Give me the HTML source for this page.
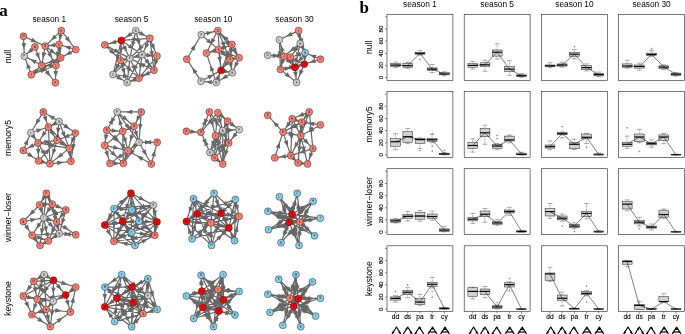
<!DOCTYPE html>
<html><head><meta charset="utf-8"><title>figure</title>
<style>html,body{margin:0;padding:0;background:#fff}svg{display:block;will-change:transform}</style></head>
<body>
<svg width="685" height="334" viewBox="0 0 685 334">
<rect width="685" height="334" fill="#fff"/>
<g font-family="'Liberation Serif', serif" font-weight="bold" font-size="17px" fill="#000">
<text x="-0.8" y="15.8">a</text><text x="359.6" y="12.7">b</text></g>
<g font-family="'Liberation Sans', sans-serif" fill="#000">
<g font-size="8.3px" text-anchor="middle">
<text x="49.3" y="21.9">season 1</text>
<text x="131.5" y="21.9">season 5</text>
<text x="213.3" y="21.9">season 10</text>
<text x="294.5" y="21.9">season 30</text>
<text x="419.9" y="7.1">season 1</text>
<text x="497.1" y="7.1">season 5</text>
<text x="574.4" y="7.1">season 10</text>
<text x="651.6" y="7.1">season 30</text>
</g>
<g font-size="8.65px" text-anchor="middle">
<text transform="translate(10.6,56.5) rotate(-90)">null</text>
<text transform="translate(10.6,138) rotate(-90)">memory5</text>
<text transform="translate(10.6,217.5) rotate(-90)">winner−loser</text>
<text transform="translate(10.6,298.5) rotate(-90)">keystone</text>
</g>
<g font-size="8.7px" text-anchor="middle">
<text transform="translate(372.2,47.3) rotate(-90)">null</text>
<text transform="translate(372.2,124.4) rotate(-90)">memory5</text>
<text transform="translate(372.2,201.5) rotate(-90)">winner−loser</text>
<text transform="translate(372.2,278.6) rotate(-90)">keystone</text>
</g>
</g>
<g id="net1">
<path d="M23.5 36.3L45.2 46.1M23.5 36.3L24.3 56.1M61.3 30.6L45.2 46.1M61.3 30.6L59.0 44.5M61.3 30.6L75.8 49.6M59.0 44.5L45.2 46.1M75.8 49.6L59.0 44.5M34.9 46.9L24.3 56.1M34.9 46.9L41.7 65.3M45.2 46.1L41.7 65.3M45.2 46.1L56.0 65.5M45.2 46.1L60.7 57.8M59.0 44.5L60.7 57.8M59.0 44.5L56.0 65.5M75.8 49.6L60.7 57.8M41.7 65.3L24.3 56.1M60.7 57.8L41.7 65.3M60.7 57.8L56.0 65.5M56.0 65.5L41.7 65.3M31.3 74.7L24.3 56.1M31.3 74.7L41.7 65.3M31.3 74.7L56.0 65.5M56.0 65.5L55.4 82.7M41.7 65.3L55.4 82.7M31.3 74.7L60.7 57.8" stroke="#666666" stroke-width="1.2" fill="none"/>
<path d="M37.2 42.5L30.6 42.0L32.5 37.8ZM24.0 49.3L21.5 43.2L26.1 43.0ZM51.0 40.5L53.9 34.5L57.1 37.9ZM59.6 40.6L58.4 34.1L62.9 34.9ZM70.4 42.6L64.8 39.0L68.5 36.2ZM49.0 45.7L54.9 42.7L55.4 47.2ZM64.4 46.1L71.0 45.7L69.7 50.2ZM27.3 53.5L30.4 47.7L33.4 51.2ZM39.4 59.0L35.1 54.0L39.4 52.4ZM42.9 58.7L41.7 52.2L46.3 53.1ZM52.1 58.5L47.1 54.2L51.1 52.0ZM55.4 53.8L49.1 51.9L51.9 48.2ZM60.2 54.2L57.2 48.4L61.7 47.8ZM57.1 58.1L55.7 51.6L60.2 52.3ZM65.5 55.2L69.9 50.2L72.1 54.2ZM30.3 59.3L36.8 60.1L34.7 64.2ZM48.3 62.7L53.2 58.3L54.9 62.6ZM56.7 64.3L58.0 57.8L61.9 60.2ZM45.8 65.4L52.0 63.1L51.9 67.7ZM26.7 62.5L31.0 67.5L26.7 69.1ZM38.8 67.9L35.7 73.8L32.7 70.4ZM46.6 69.0L41.5 73.3L39.9 69.0ZM55.6 77.2L53.5 70.9L58.1 71.1ZM50.5 76.4L44.8 73.0L48.4 70.1ZM48.7 64.7L44.5 69.8L42.2 65.8Z" fill="#666666"/>
<circle cx="23.5" cy="36.3" r="3.45" fill="#fa8072" stroke="#222" stroke-width="0.5"/>
<circle cx="61.3" cy="30.6" r="3.45" fill="#fa8072" stroke="#222" stroke-width="0.5"/>
<circle cx="34.9" cy="46.9" r="3.45" fill="#fa8072" stroke="#222" stroke-width="0.5"/>
<circle cx="45.2" cy="46.1" r="3.45" fill="#fa8072" stroke="#222" stroke-width="0.5"/>
<circle cx="59.0" cy="44.5" r="3.45" fill="#fa8072" stroke="#222" stroke-width="0.5"/>
<circle cx="75.8" cy="49.6" r="3.45" fill="#fa8072" stroke="#222" stroke-width="0.5"/>
<circle cx="24.3" cy="56.1" r="3.45" fill="#cccccc" stroke="#222" stroke-width="0.5"/>
<circle cx="60.7" cy="57.8" r="3.45" fill="#fa8072" stroke="#222" stroke-width="0.5"/>
<circle cx="41.7" cy="65.3" r="3.45" fill="#fa8072" stroke="#222" stroke-width="0.5"/>
<circle cx="56.0" cy="65.5" r="3.45" fill="#fa8072" stroke="#222" stroke-width="0.5"/>
<circle cx="31.3" cy="74.7" r="3.45" fill="#fa8072" stroke="#222" stroke-width="0.5"/>
<circle cx="55.4" cy="82.7" r="3.45" fill="#fa8072" stroke="#222" stroke-width="0.5"/>
<g font-family="'Liberation Sans', sans-serif" font-size="2.8px" text-anchor="middle" fill="#222">
<text x="23.5" y="37.3">H</text>
<text x="61.3" y="31.6">E</text>
<text x="34.9" y="47.9">A</text>
<text x="45.2" y="47.1">B</text>
<text x="59.0" y="45.5">K</text>
<text x="75.8" y="50.6">I</text>
<text x="24.3" y="57.1">P</text>
<text x="60.7" y="58.8">G</text>
<text x="41.7" y="66.3">O</text>
<text x="56.0" y="66.5">L</text>
<text x="31.3" y="75.7">J</text>
<text x="55.4" y="83.7">F</text>
</g>
</g>
<g id="net2">
<path d="M135.8 30.6L121.3 40.4M135.8 30.6L149.9 38.3M135.8 30.6L142.1 54.7M135.8 30.6L129.9 58.4M121.3 40.4L104.7 44.9M121.3 40.4L149.9 38.3M121.3 40.4L142.1 54.7M121.3 40.4L120.7 60.4M121.3 40.4L129.9 58.4M121.3 40.4L113.1 74.5M104.7 44.9L120.7 60.4M104.7 44.9L129.9 58.4M149.9 38.3L142.1 54.7M149.9 38.3L157.0 56.1M149.9 38.3L129.9 58.4M149.9 38.3L154.0 70.2M142.1 54.7L157.0 56.1M142.1 54.7L129.9 58.4M142.1 54.7L154.0 70.2M142.1 54.7L139.0 78.2M142.1 54.7L127.2 82.5M157.0 56.1L154.0 70.2M157.0 56.1L139.0 78.2M129.9 58.4L120.7 60.4M129.9 58.4L113.1 74.5M129.9 58.4L139.0 78.2M129.9 58.4L127.2 82.5M120.7 60.4L113.1 74.5M120.7 60.4L127.2 82.5M120.7 60.4L139.0 78.2M154.0 70.2L139.0 78.2M154.0 70.2L129.9 58.4M113.1 74.5L127.2 82.5M113.1 74.5L139.0 78.2M139.0 78.2L127.2 82.5M154.0 70.2L127.2 82.5" stroke="#666666" stroke-width="1.2" fill="none"/>
<path d="M126.0 37.2L129.8 31.9L132.4 35.7ZM145.6 35.9L139.0 35.0L141.2 30.9ZM139.7 45.6L135.9 40.2L140.4 39.1ZM132.2 47.5L131.2 41.0L135.7 41.9ZM110.0 43.5L115.4 39.6L116.6 44.1ZM138.7 39.1L132.7 41.9L132.3 37.3ZM134.3 49.3L127.8 47.7L130.4 43.9ZM120.9 53.5L118.8 47.2L123.4 47.4ZM126.9 52.2L122.2 47.6L126.3 45.6ZM116.5 60.5L115.7 53.9L120.2 55.0ZM114.9 54.8L108.9 52.1L112.1 48.8ZM120.0 53.1L113.5 52.2L115.7 48.2ZM144.7 49.3L145.3 42.7L149.4 44.7ZM154.6 50.1L150.2 45.2L154.4 43.5ZM137.7 50.5L140.5 44.5L143.7 47.8ZM152.3 57.3L149.3 51.5L153.8 50.9ZM152.6 55.7L146.2 57.4L146.7 52.8ZM133.0 57.4L138.3 53.4L139.6 57.9ZM149.9 64.9L144.3 61.4L148.0 58.6ZM140.1 69.5L138.7 63.1L143.2 63.7ZM133.2 71.3L134.1 64.8L138.1 67.0ZM154.9 66.2L153.9 59.6L158.4 60.6ZM146.0 69.6L148.2 63.3L151.7 66.2ZM122.3 60.1L127.8 56.5L128.8 61.0ZM119.3 68.6L122.1 62.6L125.3 66.0ZM135.7 71.1L131.1 66.4L135.2 64.5ZM128.2 73.5L126.6 67.1L131.2 67.6ZM115.4 70.2L116.3 63.6L120.4 65.8ZM124.8 74.4L120.9 69.1L125.3 67.8ZM132.1 71.5L126.0 68.8L129.2 65.5ZM143.8 75.7L148.2 70.7L150.3 74.8ZM139.2 62.9L145.7 63.6L143.7 67.7ZM122.8 80.0L116.3 79.0L118.6 75.0ZM129.1 76.8L122.7 78.2L123.3 73.6ZM130.2 81.4L135.2 77.1L136.8 81.4ZM137.8 77.6L142.5 73.0L144.4 77.1Z" fill="#666666"/>
<circle cx="135.8" cy="30.6" r="3.45" fill="#cccccc" stroke="#222" stroke-width="0.5"/>
<circle cx="121.3" cy="40.4" r="3.45" fill="#ff0000" stroke="#222" stroke-width="0.5"/>
<circle cx="104.7" cy="44.9" r="3.45" fill="#fa8072" stroke="#222" stroke-width="0.5"/>
<circle cx="149.9" cy="38.3" r="3.45" fill="#fa8072" stroke="#222" stroke-width="0.5"/>
<circle cx="129.9" cy="58.4" r="3.45" fill="#cccccc" stroke="#222" stroke-width="0.5"/>
<circle cx="142.1" cy="54.7" r="3.45" fill="#cccccc" stroke="#222" stroke-width="0.5"/>
<circle cx="157.0" cy="56.1" r="3.45" fill="#fa8072" stroke="#222" stroke-width="0.5"/>
<circle cx="120.7" cy="60.4" r="3.45" fill="#fa8072" stroke="#222" stroke-width="0.5"/>
<circle cx="154.0" cy="70.2" r="3.45" fill="#fa8072" stroke="#222" stroke-width="0.5"/>
<circle cx="113.1" cy="74.5" r="3.45" fill="#cccccc" stroke="#222" stroke-width="0.5"/>
<circle cx="139.0" cy="78.2" r="3.45" fill="#fa8072" stroke="#222" stroke-width="0.5"/>
<circle cx="127.2" cy="82.5" r="3.45" fill="#cccccc" stroke="#222" stroke-width="0.5"/>
<g font-family="'Liberation Sans', sans-serif" font-size="2.8px" text-anchor="middle" fill="#222">
<text x="135.8" y="31.6">B</text>
<text x="121.3" y="41.4">G</text>
<text x="104.7" y="45.9">J</text>
<text x="149.9" y="39.3">L</text>
<text x="129.9" y="59.4">F</text>
<text x="142.1" y="55.7">H</text>
<text x="157.0" y="57.1">I</text>
<text x="120.7" y="61.4">D</text>
<text x="154.0" y="71.2">N</text>
<text x="113.1" y="75.5">C</text>
<text x="139.0" y="79.2">K</text>
<text x="127.2" y="83.5">E</text>
</g>
</g>
<g id="net3">
<path d="M201.3 34.7L217.8 30.6M186.8 59.2L201.3 34.7M217.8 30.6L206.4 53.1M201.3 34.7L218.6 49.6M231.9 44.5L217.8 30.6M217.8 30.6L229.9 59.4M217.8 30.6L221.1 70.4M218.6 49.6L206.4 53.1M218.6 49.6L231.9 44.5M218.6 49.6L229.9 59.4M218.6 49.6L239.1 57.8M231.9 44.5L229.9 59.4M231.9 44.5L239.1 57.8M229.9 59.4L239.1 57.8M201.1 81.3L186.8 59.2M216.2 82.5L206.4 53.1M218.6 49.6L221.1 70.4M201.1 81.3L221.1 70.4M216.2 82.5L221.1 70.4M216.2 82.5L201.1 81.3M232.3 72.7L216.2 82.5M221.1 70.4L232.3 72.7M229.9 59.4L221.1 70.4M229.9 59.4L232.3 72.7M239.1 57.8L232.3 72.7M231.9 44.5L221.1 70.4M217.8 30.6L239.1 57.8" stroke="#666666" stroke-width="1.2" fill="none"/>
<path d="M212.6 31.9L207.1 35.6L206.0 31.2ZM195.6 44.3L194.5 50.8L190.5 48.4ZM210.7 44.6L211.4 38.0L215.6 40.1ZM212.3 44.2L206.1 41.9L209.1 38.4ZM222.6 35.4L228.7 38.1L225.4 41.4ZM225.1 47.9L220.5 43.0L224.8 41.3ZM219.7 53.6L216.9 47.6L221.5 47.2ZM209.5 52.2L214.8 48.3L216.1 52.7ZM228.1 45.9L223.2 50.3L221.5 46.0ZM226.6 56.5L220.4 54.2L223.4 50.7ZM231.7 54.9L225.1 54.7L226.8 50.4ZM230.5 55.0L229.0 48.6L233.6 49.2ZM237.0 53.9L232.0 49.5L236.0 47.3ZM237.6 58.1L231.8 61.4L231.1 56.9ZM192.3 67.6L197.6 71.6L193.7 74.1ZM210.3 64.9L214.5 70.0L210.1 71.5ZM220.2 63.1L217.2 57.2L221.8 56.6ZM213.8 74.4L209.5 79.4L207.3 75.3ZM219.8 73.6L219.6 80.2L215.4 78.5ZM205.6 81.7L211.9 79.9L211.6 84.4ZM221.6 79.2L225.7 74.0L228.1 78.0ZM229.7 72.2L223.2 73.2L224.1 68.7ZM223.6 67.3L225.6 61.0L229.2 63.9ZM231.7 69.1L228.3 63.4L232.8 62.6ZM234.4 68.1L234.9 61.5L239.1 63.4ZM225.3 60.3L225.6 53.7L229.8 55.5ZM230.4 46.6L224.7 43.2L228.3 40.3Z" fill="#666666"/>
<circle cx="201.3" cy="34.7" r="3.45" fill="#cccccc" stroke="#222" stroke-width="0.5"/>
<circle cx="217.8" cy="30.6" r="3.45" fill="#fa8072" stroke="#222" stroke-width="0.5"/>
<circle cx="231.9" cy="44.5" r="3.45" fill="#fa8072" stroke="#222" stroke-width="0.5"/>
<circle cx="206.4" cy="53.1" r="3.45" fill="#fa8072" stroke="#222" stroke-width="0.5"/>
<circle cx="218.6" cy="49.6" r="3.45" fill="#fa8072" stroke="#222" stroke-width="0.5"/>
<circle cx="186.8" cy="59.2" r="3.45" fill="#fa8072" stroke="#222" stroke-width="0.5"/>
<circle cx="229.9" cy="59.4" r="3.45" fill="#fa8072" stroke="#222" stroke-width="0.5"/>
<circle cx="239.1" cy="57.8" r="3.45" fill="#fa8072" stroke="#222" stroke-width="0.5"/>
<circle cx="221.1" cy="70.4" r="3.45" fill="#ff0000" stroke="#222" stroke-width="0.5"/>
<circle cx="232.3" cy="72.7" r="3.45" fill="#cccccc" stroke="#222" stroke-width="0.5"/>
<circle cx="201.1" cy="81.3" r="3.45" fill="#cccccc" stroke="#222" stroke-width="0.5"/>
<circle cx="216.2" cy="82.5" r="3.45" fill="#cccccc" stroke="#222" stroke-width="0.5"/>
<g font-family="'Liberation Sans', sans-serif" font-size="2.8px" text-anchor="middle" fill="#222">
<text x="201.3" y="35.7">F</text>
<text x="217.8" y="31.6">N</text>
<text x="231.9" y="45.5">D</text>
<text x="206.4" y="54.1">I</text>
<text x="218.6" y="50.6">K</text>
<text x="186.8" y="60.2">O</text>
<text x="229.9" y="60.4">G</text>
<text x="239.1" y="58.8">L</text>
<text x="221.1" y="71.4">A</text>
<text x="232.3" y="73.7">H</text>
<text x="201.1" y="82.3">P</text>
<text x="216.2" y="83.5">M</text>
</g>
</g>
<g id="net4">
<path d="M298.6 30.6L279.4 39.8M298.6 30.6L300.2 43.5M298.6 30.6L305.1 52.7M283.9 56.3L279.4 39.8M267.7 55.3L283.9 56.3M300.2 43.5L283.9 56.3M300.2 43.5L290.4 57.2M300.2 43.5L294.9 67.4M300.2 43.5L305.1 52.7M320.4 59.2L305.1 52.7M320.4 59.2L304.3 64.1M305.1 52.7L304.3 64.1M305.1 52.7L294.9 67.4M305.1 52.7L290.4 57.2M283.9 56.3L280.4 69.4M283.9 56.3L294.9 67.4M290.4 57.2L294.9 67.4M290.4 57.2L304.3 64.1M283.9 56.3L290.4 57.2M280.4 69.4L294.9 67.4M280.4 69.4L296.5 82.5M280.4 69.4L304.3 64.1M294.9 67.4L296.5 82.5M304.3 64.1L296.5 82.5M294.9 67.4L304.3 64.1M279.4 39.8L280.4 69.4" stroke="#666666" stroke-width="1.2" fill="none"/>
<path d="M286.2 36.5L290.8 31.8L292.8 35.9ZM299.8 40.1L296.7 34.3L301.3 33.7ZM302.7 44.6L298.8 39.3L303.2 38.0ZM280.8 45.1L284.7 50.4L280.2 51.6ZM278.9 56.0L272.6 57.9L272.8 53.3ZM272.7 55.6L279.0 53.7L278.8 58.3ZM289.6 51.8L293.1 46.2L295.9 49.8ZM293.5 52.9L295.2 46.5L299.0 49.2ZM296.9 58.5L296.0 51.9L300.5 52.9ZM304.1 50.8L299.2 46.4L303.2 44.3ZM309.9 54.7L316.5 55.0L314.7 59.3ZM309.4 62.6L314.6 58.5L316.0 62.9ZM304.5 61.5L302.6 55.1L307.2 55.5ZM298.2 62.6L299.9 56.2L303.7 58.8ZM294.8 55.9L300.0 51.8L301.4 56.2ZM281.3 65.8L280.7 59.3L285.2 60.4ZM291.6 64.1L285.6 61.3L288.9 58.0ZM293.9 65.1L289.3 60.4L293.5 58.5ZM300.1 62.0L293.6 61.3L295.6 57.2ZM290.2 57.2L283.8 58.6L284.4 54.0ZM290.7 68.0L284.9 71.1L284.3 66.5ZM290.9 77.9L284.6 75.8L287.5 72.2ZM295.4 66.1L289.8 69.7L288.8 65.2ZM296.0 78.0L293.1 72.1L297.7 71.6ZM299.2 76.2L299.5 69.5L303.7 71.3ZM302.5 64.7L297.4 68.9L295.9 64.6ZM280.0 57.7L277.5 51.6L282.1 51.4Z" fill="#666666"/>
<circle cx="298.6" cy="30.6" r="3.45" fill="#fa8072" stroke="#222" stroke-width="0.5"/>
<circle cx="279.4" cy="39.8" r="3.45" fill="#cccccc" stroke="#222" stroke-width="0.5"/>
<circle cx="300.2" cy="43.5" r="3.45" fill="#cccccc" stroke="#222" stroke-width="0.5"/>
<circle cx="305.1" cy="52.7" r="3.45" fill="#87ceeb" stroke="#222" stroke-width="0.5"/>
<circle cx="267.7" cy="55.3" r="3.45" fill="#cccccc" stroke="#222" stroke-width="0.5"/>
<circle cx="283.9" cy="56.3" r="3.45" fill="#fa8072" stroke="#222" stroke-width="0.5"/>
<circle cx="290.4" cy="57.2" r="3.45" fill="#fa8072" stroke="#222" stroke-width="0.5"/>
<circle cx="320.4" cy="59.2" r="3.45" fill="#fa8072" stroke="#222" stroke-width="0.5"/>
<circle cx="304.3" cy="64.1" r="3.45" fill="#ff0000" stroke="#222" stroke-width="0.5"/>
<circle cx="294.9" cy="67.4" r="3.45" fill="#ff0000" stroke="#222" stroke-width="0.5"/>
<circle cx="280.4" cy="69.4" r="3.45" fill="#fa8072" stroke="#222" stroke-width="0.5"/>
<circle cx="296.5" cy="82.5" r="3.45" fill="#cccccc" stroke="#222" stroke-width="0.5"/>
<g font-family="'Liberation Sans', sans-serif" font-size="2.8px" text-anchor="middle" fill="#222">
<text x="298.6" y="31.6">I</text>
<text x="279.4" y="40.8">L</text>
<text x="300.2" y="44.5">H</text>
<text x="305.1" y="53.7">N</text>
<text x="267.7" y="56.3">G</text>
<text x="283.9" y="57.3">J</text>
<text x="290.4" y="58.2">K</text>
<text x="320.4" y="60.2">C</text>
<text x="304.3" y="65.1">M</text>
<text x="294.9" y="68.4">B</text>
<text x="280.4" y="70.4">O</text>
<text x="296.5" y="83.5">F</text>
</g>
</g>
<g id="net5">
<path d="M43.3 111.9L30.8 132.7M43.3 111.9L48.4 127.0M59.0 121.5L43.3 111.9M30.8 132.7L48.4 127.0M59.0 121.5L48.4 127.0M59.0 121.5L57.0 140.3M59.0 121.5L75.4 133.1M59.0 121.5L69.3 148.4M48.4 127.0L38.0 142.9M48.4 127.0L57.0 140.3M48.4 127.0L49.9 163.8M48.4 127.0L69.3 148.4M75.4 133.1L57.0 140.3M75.4 133.1L69.3 148.4M75.4 133.1L70.9 161.3M30.8 132.7L38.0 142.9M23.3 150.5L30.8 132.7M38.0 142.9L57.0 140.3M38.0 142.9L23.3 150.5M38.0 142.9L38.6 160.9M38.0 142.9L49.9 163.8M38.0 142.9L69.3 148.4M57.0 140.3L69.3 148.4M57.0 140.3L49.9 163.8M23.3 150.5L38.6 160.9M38.6 160.9L49.9 163.8M38.6 160.9L57.0 140.3M49.9 163.8L70.9 161.3M69.3 148.4L49.9 163.8M69.3 148.4L70.9 161.3" stroke="#666666" stroke-width="1.2" fill="none"/>
<path d="M35.5 125.0L36.7 118.5L40.6 120.8ZM46.8 122.4L42.7 117.2L47.0 115.8ZM48.5 115.1L55.0 116.4L52.6 120.3ZM42.5 128.9L37.4 133.0L35.9 128.6ZM50.9 125.7L55.4 120.8L57.5 124.9ZM57.7 134.0L56.0 127.6L60.6 128.1ZM69.7 129.1L63.3 127.4L66.0 123.6ZM65.3 137.8L60.9 132.9L65.2 131.2ZM41.5 137.5L43.0 131.1L46.8 133.6ZM54.4 136.3L49.1 132.3L52.9 129.8ZM49.3 148.5L46.7 142.4L51.3 142.2ZM61.0 139.9L55.0 137.1L58.3 133.9ZM63.3 137.8L68.2 133.4L69.9 137.7ZM71.2 143.6L71.4 137.0L75.6 138.7ZM72.7 150.3L71.4 143.8L75.9 144.5ZM36.2 140.3L30.7 136.6L34.5 133.9ZM28.3 138.7L28.0 145.3L23.7 143.6ZM50.6 141.2L44.7 144.3L44.1 139.7ZM27.9 148.1L32.3 143.2L34.5 147.3ZM38.4 155.0L35.9 148.9L40.5 148.7ZM45.5 156.0L40.4 151.8L44.4 149.5ZM56.7 146.2L50.2 147.4L51.0 142.8ZM65.7 146.1L59.3 144.6L61.8 140.7ZM52.6 155.0L52.1 148.4L56.5 149.7ZM33.5 157.4L27.1 155.9L29.7 152.1ZM47.3 163.1L40.7 163.8L41.8 159.4ZM49.9 148.3L47.5 154.4L44.0 151.4ZM63.5 162.2L57.6 165.2L57.0 160.6ZM57.2 158.0L60.6 152.4L63.5 156.0ZM70.5 157.9L67.4 152.1L72.0 151.5Z" fill="#666666"/>
<circle cx="43.3" cy="111.9" r="3.45" fill="#fa8072" stroke="#222" stroke-width="0.5"/>
<circle cx="59.0" cy="121.5" r="3.45" fill="#cccccc" stroke="#222" stroke-width="0.5"/>
<circle cx="48.4" cy="127.0" r="3.45" fill="#fa8072" stroke="#222" stroke-width="0.5"/>
<circle cx="30.8" cy="132.7" r="3.45" fill="#cccccc" stroke="#222" stroke-width="0.5"/>
<circle cx="75.4" cy="133.1" r="3.45" fill="#fa8072" stroke="#222" stroke-width="0.5"/>
<circle cx="57.0" cy="140.3" r="3.45" fill="#fa8072" stroke="#222" stroke-width="0.5"/>
<circle cx="38.0" cy="142.9" r="3.45" fill="#fa8072" stroke="#222" stroke-width="0.5"/>
<circle cx="69.3" cy="148.4" r="3.45" fill="#fa8072" stroke="#222" stroke-width="0.5"/>
<circle cx="23.3" cy="150.5" r="3.45" fill="#fa8072" stroke="#222" stroke-width="0.5"/>
<circle cx="38.6" cy="160.9" r="3.45" fill="#fa8072" stroke="#222" stroke-width="0.5"/>
<circle cx="49.9" cy="163.8" r="3.45" fill="#fa8072" stroke="#222" stroke-width="0.5"/>
<circle cx="70.9" cy="161.3" r="3.45" fill="#fa8072" stroke="#222" stroke-width="0.5"/>
<g font-family="'Liberation Sans', sans-serif" font-size="2.8px" text-anchor="middle" fill="#222">
<text x="43.3" y="112.9">A</text>
<text x="59.0" y="122.5">G</text>
<text x="48.4" y="128.0">K</text>
<text x="30.8" y="133.7">L</text>
<text x="75.4" y="134.1">B</text>
<text x="57.0" y="141.3">E</text>
<text x="38.0" y="143.9">J</text>
<text x="69.3" y="149.4">I</text>
<text x="23.3" y="151.5">H</text>
<text x="38.6" y="161.9">C</text>
<text x="49.9" y="164.8">F</text>
<text x="70.9" y="162.3">D</text>
</g>
</g>
<g id="net6">
<path d="M141.3 111.9L117.2 111.9M141.3 111.9L134.1 126.2M141.3 111.9L139.0 142.3M106.8 130.2L117.2 111.9M122.7 131.3L117.2 111.9M117.2 111.9L139.0 142.3M106.8 130.2L122.7 131.3M134.1 126.2L122.7 131.3M106.8 130.2L104.7 145.4M106.8 130.2L128.0 150.7M134.1 126.2L139.0 142.3M134.1 126.2L128.0 150.7M122.7 131.3L128.0 150.7M122.7 131.3L123.3 163.4M122.7 131.3L104.7 145.4M139.0 142.3L157.2 142.3M139.0 142.3L151.3 164.0M139.0 142.3L128.0 150.7M139.0 142.3L123.3 163.4M151.3 164.0L157.2 142.3M151.3 164.0L128.0 150.7M104.7 145.4L110.0 163.4M104.7 145.4L128.0 150.7M104.7 145.4L123.3 163.4M128.0 150.7L110.0 163.4M128.0 150.7L123.3 163.4M110.0 163.4L123.3 163.4M117.2 111.9L134.1 126.2" stroke="#666666" stroke-width="1.2" fill="none"/>
<path d="M126.2 111.9L132.3 109.6L132.3 114.2ZM136.3 121.8L137.0 115.2L141.1 117.3ZM139.9 130.2L138.1 123.8L142.7 124.2ZM113.5 118.4L112.5 124.9L108.5 122.6ZM110.5 123.7L111.5 117.2L115.5 119.5ZM119.1 118.6L123.0 124.0L118.6 125.2ZM129.9 129.6L124.4 125.9L128.2 123.2ZM117.8 131.0L111.5 132.8L111.8 128.2ZM125.6 130.0L130.3 125.4L132.2 129.6ZM105.3 140.9L103.9 134.4L108.5 135.0ZM119.6 142.6L113.6 139.9L116.8 136.6ZM137.5 137.2L133.4 132.0L137.8 130.6ZM130.3 141.5L129.6 134.9L134.0 136.0ZM126.2 144.0L122.3 138.6L126.8 137.4ZM123.1 150.4L120.6 144.3L125.2 144.2ZM111.3 140.3L114.7 134.6L117.6 138.2ZM151.2 142.3L145.0 144.6L145.0 140.0ZM145.0 142.3L151.2 140.0L151.2 144.6ZM146.7 155.8L141.6 151.6L145.6 149.3ZM131.0 148.4L134.6 142.8L137.4 146.4ZM129.3 155.3L131.2 149.0L134.8 151.7ZM155.1 150.2L155.7 156.7L151.2 155.5ZM137.0 155.8L143.5 156.9L141.2 160.9ZM108.2 157.4L104.3 152.1L108.7 150.8ZM119.4 148.7L112.8 149.6L113.8 145.1ZM116.2 156.6L110.2 153.9L113.4 150.6ZM116.5 158.8L120.2 153.4L122.9 157.1ZM124.6 160.0L124.6 153.3L128.9 154.9ZM119.8 163.4L113.6 165.7L113.6 161.1ZM128.0 121.1L121.8 118.8L124.8 115.3Z" fill="#666666"/>
<circle cx="117.2" cy="111.9" r="3.45" fill="#cccccc" stroke="#222" stroke-width="0.5"/>
<circle cx="141.3" cy="111.9" r="3.45" fill="#fa8072" stroke="#222" stroke-width="0.5"/>
<circle cx="134.1" cy="126.2" r="3.45" fill="#fa8072" stroke="#222" stroke-width="0.5"/>
<circle cx="106.8" cy="130.2" r="3.45" fill="#fa8072" stroke="#222" stroke-width="0.5"/>
<circle cx="122.7" cy="131.3" r="3.45" fill="#fa8072" stroke="#222" stroke-width="0.5"/>
<circle cx="139.0" cy="142.3" r="3.45" fill="#cccccc" stroke="#222" stroke-width="0.5"/>
<circle cx="157.2" cy="142.3" r="3.45" fill="#fa8072" stroke="#222" stroke-width="0.5"/>
<circle cx="104.7" cy="145.4" r="3.45" fill="#fa8072" stroke="#222" stroke-width="0.5"/>
<circle cx="128.0" cy="150.7" r="3.45" fill="#fa8072" stroke="#222" stroke-width="0.5"/>
<circle cx="110.0" cy="163.4" r="3.45" fill="#fa8072" stroke="#222" stroke-width="0.5"/>
<circle cx="123.3" cy="163.4" r="3.45" fill="#fa8072" stroke="#222" stroke-width="0.5"/>
<circle cx="151.3" cy="164.0" r="3.45" fill="#fa8072" stroke="#222" stroke-width="0.5"/>
<g font-family="'Liberation Sans', sans-serif" font-size="2.8px" text-anchor="middle" fill="#222">
<text x="117.2" y="112.9">F</text>
<text x="141.3" y="112.9">B</text>
<text x="134.1" y="127.2">A</text>
<text x="106.8" y="131.2">N</text>
<text x="122.7" y="132.3">D</text>
<text x="139.0" y="143.3">J</text>
<text x="157.2" y="143.3">H</text>
<text x="104.7" y="146.4">L</text>
<text x="128.0" y="151.7">I</text>
<text x="110.0" y="164.4">C</text>
<text x="123.3" y="164.4">K</text>
<text x="151.3" y="165.0">E</text>
</g>
</g>
<g id="net7">
<path d="M186.4 131.3L200.9 132.3M209.4 111.9L200.9 132.3M217.8 112.7L200.9 132.3M209.4 111.9L222.7 130.7M209.4 111.9L215.4 135.8M217.8 112.7L222.7 130.7M217.8 112.7L215.4 135.8M217.8 112.7L227.6 121.1M217.8 112.7L239.1 129.6M227.6 121.1L239.1 129.6M227.6 121.1L222.7 130.7M227.6 121.1L228.7 142.9M222.7 130.7L239.1 129.6M239.1 129.6L228.7 142.9M200.9 132.3L209.9 152.5M222.7 130.7L209.9 152.5M222.7 130.7L214.6 157.8M222.7 130.7L222.7 164.0M215.4 135.8L209.9 152.5M215.4 135.8L214.6 157.8M215.4 135.8L222.7 164.0M228.7 142.9L209.9 152.5M228.7 142.9L214.6 157.8M228.7 142.9L222.7 164.0M227.6 121.1L222.7 164.0M209.9 152.5L214.6 157.8M214.6 157.8L222.7 164.0M222.7 130.7L215.4 135.8M222.7 130.7L228.7 142.9" stroke="#666666" stroke-width="1.2" fill="none"/>
<path d="M196.7 132.0L190.4 133.9L190.7 129.3ZM204.0 125.0L204.2 118.4L208.5 120.1ZM206.3 119.2L206.1 125.8L201.8 124.1ZM207.3 124.8L209.6 118.7L213.1 121.7ZM217.8 123.8L212.4 120.1L216.1 117.4ZM213.2 126.9L209.4 121.4L213.9 120.3ZM221.1 124.7L217.2 119.3L221.7 118.1ZM216.3 127.3L214.6 120.9L219.2 121.4ZM225.1 118.9L218.8 116.6L221.8 113.1ZM230.9 123.1L224.6 121.0L227.5 117.4ZM235.8 127.2L229.5 125.4L232.2 121.7ZM223.7 128.7L224.5 122.1L228.6 124.2ZM228.3 135.1L225.7 129.0L230.3 128.8ZM234.0 129.9L228.0 132.7L227.7 128.1ZM232.0 138.7L234.0 132.4L237.6 135.2ZM206.7 145.2L202.0 140.5L206.2 138.6ZM204.1 139.6L208.8 144.3L204.6 146.2ZM214.7 144.3L215.9 137.8L219.9 140.1ZM217.8 147.2L217.3 140.6L221.7 141.9ZM222.7 150.4L220.4 144.2L225.0 144.2ZM211.7 147.1L211.4 140.5L215.8 141.9ZM214.9 149.9L212.8 143.6L217.4 143.8ZM219.8 152.9L216.0 147.5L220.5 146.3ZM216.5 149.1L221.0 144.2L223.1 148.3ZM219.5 152.6L222.1 146.5L225.5 149.7ZM224.9 156.4L224.3 149.8L228.8 151.1ZM224.8 145.6L223.2 139.2L227.8 139.7ZM214.3 157.5L208.5 154.4L211.9 151.3ZM221.1 162.8L214.8 160.8L217.6 157.2ZM216.5 135.0L220.3 129.6L222.9 133.4ZM227.1 139.6L222.3 135.0L226.4 133.0Z" fill="#666666"/>
<circle cx="209.4" cy="111.9" r="3.45" fill="#fa8072" stroke="#222" stroke-width="0.5"/>
<circle cx="217.8" cy="112.7" r="3.45" fill="#fa8072" stroke="#222" stroke-width="0.5"/>
<circle cx="227.6" cy="121.1" r="3.45" fill="#fa8072" stroke="#222" stroke-width="0.5"/>
<circle cx="222.7" cy="130.7" r="3.45" fill="#cccccc" stroke="#222" stroke-width="0.5"/>
<circle cx="239.1" cy="129.6" r="3.45" fill="#cccccc" stroke="#222" stroke-width="0.5"/>
<circle cx="186.4" cy="131.3" r="3.45" fill="#fa8072" stroke="#222" stroke-width="0.5"/>
<circle cx="200.9" cy="132.3" r="3.45" fill="#fa8072" stroke="#222" stroke-width="0.5"/>
<circle cx="215.4" cy="135.8" r="3.45" fill="#fa8072" stroke="#222" stroke-width="0.5"/>
<circle cx="228.7" cy="142.9" r="3.45" fill="#fa8072" stroke="#222" stroke-width="0.5"/>
<circle cx="209.9" cy="152.5" r="3.45" fill="#cccccc" stroke="#222" stroke-width="0.5"/>
<circle cx="214.6" cy="157.8" r="3.45" fill="#fa8072" stroke="#222" stroke-width="0.5"/>
<circle cx="222.7" cy="164.0" r="3.45" fill="#fa8072" stroke="#222" stroke-width="0.5"/>
<g font-family="'Liberation Sans', sans-serif" font-size="2.8px" text-anchor="middle" fill="#222">
<text x="209.4" y="112.9">K</text>
<text x="217.8" y="113.7">J</text>
<text x="227.6" y="122.1">D</text>
<text x="222.7" y="131.7">A</text>
<text x="239.1" y="130.6">F</text>
<text x="186.4" y="132.3">B</text>
<text x="200.9" y="133.3">H</text>
<text x="215.4" y="136.8">I</text>
<text x="228.7" y="143.9">N</text>
<text x="209.9" y="153.5">E</text>
<text x="214.6" y="158.8">G</text>
<text x="222.7" y="165.0">L</text>
</g>
</g>
<g id="net8">
<path d="M283.0 132.1L267.7 115.3M309.2 111.9L292.2 118.8M309.2 111.9L301.8 122.1M309.2 111.9L312.9 148.6M292.2 118.8L283.0 132.1M301.8 122.1L283.0 132.1M292.2 118.8L301.8 122.1M292.2 118.8L300.8 135.8M301.8 122.1L300.8 135.8M320.4 124.9L301.8 122.1M320.4 124.9L300.8 135.8M283.0 132.1L300.8 135.8M283.0 132.1L290.8 155.6M274.7 157.8L283.0 132.1M300.8 135.8L290.8 155.6M300.8 135.8L298.0 162.9M300.8 135.8L307.6 164.0M300.8 135.8L312.9 148.6M312.9 148.6L290.8 155.6M312.9 148.6L307.6 164.0M290.8 155.6L274.7 157.8M290.8 155.6L298.0 162.9M298.0 162.9L307.6 164.0M292.2 118.8L290.8 155.6M301.8 122.1L298.0 162.9M309.2 111.9L300.8 135.8" stroke="#666666" stroke-width="1.2" fill="none"/>
<path d="M273.3 121.4L279.1 124.4L275.7 127.5ZM297.8 116.5L302.7 112.1L304.4 116.3ZM303.7 119.5L305.5 113.1L309.2 115.8ZM311.4 133.3L308.5 127.4L313.0 126.9ZM285.8 128.0L287.5 121.6L291.3 124.2ZM289.7 128.6L294.1 123.6L296.2 127.7ZM299.9 121.5L293.3 121.6L294.8 117.3ZM297.9 130.1L293.0 125.6L297.2 123.5ZM301.1 132.0L299.2 125.7L303.8 126.0ZM301.5 125.9L303.4 132.2L298.8 131.9ZM308.0 123.0L314.5 121.7L313.8 126.2ZM307.9 131.9L312.2 126.8L314.4 130.9ZM294.9 134.6L288.4 135.6L289.3 131.1ZM287.9 146.8L283.7 141.6L288.1 140.2ZM279.8 142.0L280.1 148.6L275.7 147.2ZM294.4 148.5L295.1 141.9L299.3 144.0ZM299.1 152.4L297.4 146.0L302.0 146.5ZM304.9 152.9L301.2 147.4L305.7 146.3ZM309.0 144.5L303.0 141.5L306.4 138.4ZM298.9 153.0L304.1 149.0L305.5 153.4ZM309.2 159.2L309.1 152.6L313.4 154.1ZM279.7 157.1L285.5 154.0L286.1 158.6ZM296.6 161.5L290.6 158.7L293.9 155.4ZM305.9 163.8L299.5 165.4L300.0 160.8ZM291.4 140.3L289.3 134.0L293.9 134.2ZM299.6 145.6L297.9 139.2L302.5 139.6ZM304.0 126.8L303.9 120.2L308.2 121.7Z" fill="#666666"/>
<circle cx="267.7" cy="115.3" r="3.45" fill="#fa8072" stroke="#222" stroke-width="0.5"/>
<circle cx="309.2" cy="111.9" r="3.45" fill="#fa8072" stroke="#222" stroke-width="0.5"/>
<circle cx="292.2" cy="118.8" r="3.45" fill="#fa8072" stroke="#222" stroke-width="0.5"/>
<circle cx="301.8" cy="122.1" r="3.45" fill="#fa8072" stroke="#222" stroke-width="0.5"/>
<circle cx="320.4" cy="124.9" r="3.45" fill="#fa8072" stroke="#222" stroke-width="0.5"/>
<circle cx="283.0" cy="132.1" r="3.45" fill="#fa8072" stroke="#222" stroke-width="0.5"/>
<circle cx="300.8" cy="135.8" r="3.45" fill="#fa8072" stroke="#222" stroke-width="0.5"/>
<circle cx="312.9" cy="148.6" r="3.45" fill="#fa8072" stroke="#222" stroke-width="0.5"/>
<circle cx="274.7" cy="157.8" r="3.45" fill="#fa8072" stroke="#222" stroke-width="0.5"/>
<circle cx="290.8" cy="155.6" r="3.45" fill="#fa8072" stroke="#222" stroke-width="0.5"/>
<circle cx="298.0" cy="162.9" r="3.45" fill="#fa8072" stroke="#222" stroke-width="0.5"/>
<circle cx="307.6" cy="164.0" r="3.45" fill="#fa8072" stroke="#222" stroke-width="0.5"/>
<g font-family="'Liberation Sans', sans-serif" font-size="2.8px" text-anchor="middle" fill="#222">
<text x="267.7" y="116.3">B</text>
<text x="309.2" y="112.9">A</text>
<text x="292.2" y="119.8">H</text>
<text x="301.8" y="123.1">D</text>
<text x="320.4" y="125.9">I</text>
<text x="283.0" y="133.1">E</text>
<text x="300.8" y="136.8">K</text>
<text x="312.9" y="149.6">N</text>
<text x="274.7" y="158.8">J</text>
<text x="290.8" y="156.6">G</text>
<text x="298.0" y="163.9">F</text>
<text x="307.6" y="165.0">L</text>
</g>
</g>
<g id="net9">
<path d="M46.4 193.3L39.6 204.9M46.4 193.3L52.3 204.1M46.4 193.3L43.7 217.8M46.4 193.3L56.6 221.9M39.6 204.9L52.3 204.1M39.6 204.9L23.3 221.5M39.6 204.9L43.7 217.8M52.3 204.1L65.8 210.0M52.3 204.1L43.7 217.8M52.3 204.1L56.6 221.9M52.3 204.1L59.3 233.5M65.8 210.0L43.7 217.8M65.8 210.0L56.6 221.9M65.8 210.0L59.3 233.5M23.3 221.5L43.7 217.8M23.3 221.5L32.1 235.2M43.7 217.8L32.1 235.2M43.7 217.8L48.4 240.9M43.7 217.8L59.3 233.5M43.7 217.8L56.6 221.9M43.7 217.8L40.0 245.4M56.6 221.9L59.3 233.5M56.6 221.9L48.4 240.9M59.3 233.5L75.8 234.8M59.3 233.5L48.4 240.9M59.3 233.5L32.1 235.2M32.1 235.2L48.4 240.9M32.1 235.2L40.0 245.4M48.4 240.9L40.0 245.4M56.6 221.9L75.8 234.8" stroke="#666666" stroke-width="1.2" fill="none"/>
<path d="M41.4 201.8L42.6 195.3L46.6 197.6ZM50.8 201.4L45.8 197.1L49.9 194.9ZM44.7 208.6L43.1 202.2L47.7 202.7ZM52.5 210.5L48.3 205.5L52.6 203.9ZM49.0 204.3L43.0 207.0L42.7 202.4ZM29.3 215.4L32.0 209.4L35.3 212.6ZM42.6 214.3L38.5 209.1L42.9 207.7ZM61.9 208.3L55.3 207.9L57.1 203.7ZM46.4 213.6L47.7 207.1L51.6 209.5ZM55.2 216.0L51.5 210.5L56.0 209.4ZM56.5 221.8L52.8 216.3L57.3 215.3ZM51.8 214.9L56.9 210.7L58.4 215.0ZM59.3 218.4L61.3 212.1L64.9 214.9ZM61.7 224.7L61.2 218.1L65.6 219.4ZM36.6 219.1L30.9 222.5L30.0 217.9ZM29.4 231.0L24.1 227.0L28.0 224.5ZM36.2 229.1L37.7 222.6L41.5 225.2ZM46.7 232.4L43.2 226.8L47.7 225.9ZM53.7 227.8L47.7 225.1L50.9 221.8ZM53.1 220.8L46.5 221.1L47.9 216.7ZM41.4 234.7L40.0 228.2L44.5 228.8ZM58.7 230.7L55.0 225.2L59.5 224.2ZM51.3 234.2L51.6 227.6L55.8 229.5ZM70.6 234.4L64.3 236.2L64.6 231.6ZM64.5 233.9L70.8 232.1L70.5 236.7ZM51.3 238.9L55.1 233.6L57.7 237.4ZM42.6 234.5L48.7 231.9L48.9 236.5ZM43.2 239.1L36.6 239.2L38.1 234.9ZM37.9 242.8L32.3 239.3L36.0 236.4ZM41.5 244.6L45.8 239.7L48.0 243.7ZM68.8 230.1L62.3 228.5L64.9 224.7Z" fill="#666666"/>
<circle cx="46.4" cy="193.3" r="3.45" fill="#fa8072" stroke="#222" stroke-width="0.5"/>
<circle cx="39.6" cy="204.9" r="3.45" fill="#fa8072" stroke="#222" stroke-width="0.5"/>
<circle cx="52.3" cy="204.1" r="3.45" fill="#fa8072" stroke="#222" stroke-width="0.5"/>
<circle cx="65.8" cy="210.0" r="3.45" fill="#fa8072" stroke="#222" stroke-width="0.5"/>
<circle cx="43.7" cy="217.8" r="3.45" fill="#cccccc" stroke="#222" stroke-width="0.5"/>
<circle cx="23.3" cy="221.5" r="3.45" fill="#fa8072" stroke="#222" stroke-width="0.5"/>
<circle cx="56.6" cy="221.9" r="3.45" fill="#fa8072" stroke="#222" stroke-width="0.5"/>
<circle cx="59.3" cy="233.5" r="3.45" fill="#cccccc" stroke="#222" stroke-width="0.5"/>
<circle cx="75.8" cy="234.8" r="3.45" fill="#fa8072" stroke="#222" stroke-width="0.5"/>
<circle cx="32.1" cy="235.2" r="3.45" fill="#fa8072" stroke="#222" stroke-width="0.5"/>
<circle cx="48.4" cy="240.9" r="3.45" fill="#fa8072" stroke="#222" stroke-width="0.5"/>
<circle cx="40.0" cy="245.4" r="3.45" fill="#fa8072" stroke="#222" stroke-width="0.5"/>
<g font-family="'Liberation Sans', sans-serif" font-size="2.8px" text-anchor="middle" fill="#222">
<text x="46.4" y="194.3">K</text>
<text x="39.6" y="205.9">G</text>
<text x="52.3" y="205.1">B</text>
<text x="65.8" y="211.0">N</text>
<text x="43.7" y="218.8">I</text>
<text x="23.3" y="222.5">A</text>
<text x="56.6" y="222.9">E</text>
<text x="59.3" y="234.5">H</text>
<text x="75.8" y="235.8">F</text>
<text x="32.1" y="236.2">D</text>
<text x="48.4" y="241.9">L</text>
<text x="40.0" y="246.4">C</text>
</g>
</g>
<g id="net10">
<path d="M114.1 208.6L130.9 193.3M114.1 208.6L153.4 205.1M114.1 208.6L122.7 221.5M114.1 208.6L104.7 225.0M114.1 208.6L113.9 241.3M131.9 210.0L130.9 193.3M131.9 210.0L153.4 205.1M131.9 210.0L122.7 221.5M131.9 210.0L157.0 221.9M131.9 210.0L104.7 225.0M131.9 210.0L154.8 235.2M131.9 210.0L113.9 241.3M139.0 221.3L130.9 193.3M139.0 221.3L153.4 205.1M139.0 221.3L122.7 221.5M139.0 221.3L157.0 221.9M139.0 221.3L104.7 225.0M139.0 221.3L154.8 235.2M139.0 221.3L113.9 241.3M131.5 232.5L130.9 193.3M131.5 232.5L153.4 205.1M131.5 232.5L122.7 221.5M131.5 232.5L157.0 221.9M131.5 232.5L104.7 225.0M131.5 232.5L154.8 235.2M131.5 232.5L113.9 241.3M135.0 245.4L122.7 221.5M135.0 245.4L157.0 221.9M135.0 245.4L104.7 225.0M135.0 245.4L154.8 235.2M135.0 245.4L113.9 241.3M130.9 193.3L153.4 205.1M130.9 193.3L122.7 221.5M130.9 193.3L157.0 221.9M130.9 193.3L104.7 225.0M153.4 205.1L122.7 221.5M153.4 205.1L157.0 221.9M153.4 205.1L154.8 235.2M122.7 221.5L157.0 221.9M122.7 221.5L104.7 225.0M122.7 221.5L154.8 235.2M122.7 221.5L113.9 241.3M157.0 221.9L154.8 235.2M104.7 225.0L113.9 241.3M154.8 235.2L113.9 241.3M114.1 208.6L131.9 210.0M131.9 210.0L139.0 221.3M139.0 221.3L131.5 232.5M131.5 232.5L135.0 245.4M114.1 208.6L131.5 232.5" stroke="#666666" stroke-width="1.2" fill="none"/>
<path d="M124.8 198.9L121.8 204.7L118.7 201.3ZM136.8 206.6L130.9 209.4L130.5 204.8ZM120.1 217.6L114.8 213.7L118.6 211.2ZM107.9 219.5L108.9 213.0L112.9 215.3ZM114.0 228.0L111.7 221.8L116.3 221.9ZM131.2 198.6L133.9 204.6L129.3 204.9ZM145.7 206.9L140.1 210.5L139.1 206.0ZM125.4 218.2L127.4 211.9L131.0 214.8ZM147.3 217.3L140.7 216.7L142.6 212.5ZM115.6 219.0L119.9 214.0L122.1 218.0ZM145.4 224.9L139.6 221.9L143.0 218.8ZM121.4 228.3L122.5 221.8L126.4 224.1ZM134.1 204.3L138.0 209.6L133.6 210.9ZM148.3 210.9L145.9 217.0L142.4 214.0ZM127.8 221.4L133.9 219.1L134.0 223.7ZM151.1 221.7L144.8 223.8L145.0 219.2ZM118.8 223.5L124.7 220.5L125.2 225.1ZM149.2 230.3L143.1 227.9L146.1 224.5ZM124.0 233.2L127.4 227.6L130.3 231.2ZM131.2 209.8L133.5 216.0L128.9 216.0ZM144.4 216.4L142.3 222.7L138.7 219.8ZM125.2 224.6L130.8 228.0L127.2 230.9ZM147.1 226.0L142.3 230.5L140.5 226.3ZM115.1 227.9L121.7 227.4L120.5 231.8ZM146.2 234.2L139.8 235.8L140.3 231.2ZM119.9 238.3L124.4 233.5L126.5 237.6ZM127.4 230.7L132.3 235.2L128.2 237.3ZM148.1 231.4L145.6 237.5L142.2 234.3ZM117.3 233.5L123.7 235.0L121.1 238.8ZM147.7 238.9L143.2 243.8L141.1 239.7ZM121.4 242.8L127.9 241.7L127.1 246.2ZM144.9 200.6L138.3 199.8L140.5 195.7ZM125.9 210.4L125.5 203.8L129.9 205.1ZM146.0 209.9L140.2 206.9L143.6 203.8ZM115.8 211.5L118.0 205.3L121.5 208.2ZM135.3 214.8L139.7 209.8L141.9 213.9ZM155.8 216.5L152.3 211.0L156.8 210.0ZM154.2 223.2L151.7 217.2L156.3 216.9ZM142.9 221.7L136.7 224.0L136.8 219.4ZM110.7 223.8L116.3 220.4L117.2 224.9ZM141.6 229.6L135.0 229.2L136.8 225.0ZM117.0 234.2L117.5 227.6L121.7 229.5ZM155.4 231.6L154.1 225.1L158.7 225.9ZM110.8 235.8L105.8 231.6L109.8 229.3ZM131.3 238.7L137.1 235.5L137.8 240.1ZM126.1 209.5L119.7 211.3L120.1 206.8ZM137.1 218.3L131.9 214.2L135.7 211.8ZM133.5 229.5L135.1 223.0L138.9 225.6ZM134.1 241.9L130.2 236.6L134.7 235.4ZM124.6 223.1L119.1 219.4L122.8 216.7Z" fill="#666666"/>
<circle cx="130.9" cy="193.3" r="3.45" fill="#ff0000" stroke="#222" stroke-width="0.5"/>
<circle cx="153.4" cy="205.1" r="3.45" fill="#cccccc" stroke="#222" stroke-width="0.5"/>
<circle cx="114.1" cy="208.6" r="3.45" fill="#87ceeb" stroke="#222" stroke-width="0.5"/>
<circle cx="131.9" cy="210.0" r="3.45" fill="#87ceeb" stroke="#222" stroke-width="0.5"/>
<circle cx="122.7" cy="221.5" r="3.45" fill="#ff0000" stroke="#222" stroke-width="0.5"/>
<circle cx="139.0" cy="221.3" r="3.45" fill="#87ceeb" stroke="#222" stroke-width="0.5"/>
<circle cx="157.0" cy="221.9" r="3.45" fill="#ff0000" stroke="#222" stroke-width="0.5"/>
<circle cx="104.7" cy="225.0" r="3.45" fill="#ff0000" stroke="#222" stroke-width="0.5"/>
<circle cx="131.5" cy="232.5" r="3.45" fill="#87ceeb" stroke="#222" stroke-width="0.5"/>
<circle cx="154.8" cy="235.2" r="3.45" fill="#fa8072" stroke="#222" stroke-width="0.5"/>
<circle cx="113.9" cy="241.3" r="3.45" fill="#fa8072" stroke="#222" stroke-width="0.5"/>
<circle cx="135.0" cy="245.4" r="3.45" fill="#87ceeb" stroke="#222" stroke-width="0.5"/>
<g font-family="'Liberation Sans', sans-serif" font-size="2.8px" text-anchor="middle" fill="#222">
<text x="130.9" y="194.3">K</text>
<text x="153.4" y="206.1">E</text>
<text x="114.1" y="209.6">F</text>
<text x="131.9" y="211.0">J</text>
<text x="122.7" y="222.5">G</text>
<text x="139.0" y="222.3">H</text>
<text x="157.0" y="222.9">L</text>
<text x="104.7" y="226.0">A</text>
<text x="131.5" y="233.5">C</text>
<text x="154.8" y="236.2">B</text>
<text x="113.9" y="242.3">D</text>
<text x="135.0" y="246.4">N</text>
</g>
</g>
<g id="net11">
<path d="M214.1 193.3L197.2 213.7M214.1 193.3L221.1 213.3M214.1 193.3L239.1 216.4M214.1 193.3L186.4 221.5M214.1 193.3L210.9 222.9M214.1 193.3L228.9 228.0M193.5 198.8L197.2 213.7M193.5 198.8L221.1 213.3M193.5 198.8L186.4 221.5M193.5 198.8L210.9 222.9M193.5 198.8L228.9 228.0M235.4 199.4L197.2 213.7M235.4 199.4L221.1 213.3M235.4 199.4L239.1 216.4M235.4 199.4L210.9 222.9M235.4 199.4L228.9 228.0M192.1 238.9L197.2 213.7M192.1 238.9L221.1 213.3M192.1 238.9L186.4 221.5M192.1 238.9L210.9 222.9M192.1 238.9L228.9 228.0M234.6 240.7L197.2 213.7M234.6 240.7L221.1 213.3M234.6 240.7L239.1 216.4M234.6 240.7L210.9 222.9M234.6 240.7L228.9 228.0M211.5 245.4L197.2 213.7M211.5 245.4L221.1 213.3M211.5 245.4L239.1 216.4M211.5 245.4L186.4 221.5M211.5 245.4L210.9 222.9M211.5 245.4L228.9 228.0M197.2 213.7L221.1 213.3M197.2 213.7L239.1 216.4M197.2 213.7L186.4 221.5M197.2 213.7L210.9 222.9M197.2 213.7L228.9 228.0M221.1 213.3L239.1 216.4M221.1 213.3L186.4 221.5M221.1 213.3L210.9 222.9M221.1 213.3L228.9 228.0M239.1 216.4L210.9 222.9M239.1 216.4L228.9 228.0M186.4 221.5L210.9 222.9M186.4 221.5L228.9 228.0M210.9 222.9L228.9 228.0M193.5 198.8L192.1 238.9M235.4 199.4L234.6 240.7" stroke="#666666" stroke-width="1.2" fill="none"/>
<path d="M203.7 205.9L205.9 199.6L209.4 202.6ZM218.6 206.2L214.4 201.1L218.7 199.6ZM228.9 207.0L222.8 204.4L225.9 201.1ZM198.1 209.6L200.8 203.6L204.1 206.8ZM212.2 211.2L210.5 204.8L215.1 205.3ZM222.7 213.5L218.2 208.7L222.4 206.9ZM196.1 209.3L192.4 203.8L196.8 202.7ZM210.0 207.5L203.5 206.6L205.6 202.6ZM189.0 213.1L188.7 206.5L193.1 207.9ZM204.0 213.4L198.5 209.7L202.3 207.0ZM213.6 215.4L207.3 213.2L210.3 209.7ZM213.4 207.6L218.4 203.3L220.0 207.6ZM226.0 208.5L228.9 202.5L232.1 205.8ZM237.9 210.9L234.3 205.4L238.8 204.4ZM220.9 213.3L223.8 207.3L227.0 210.7ZM231.5 216.7L230.6 210.2L235.1 211.2ZM195.3 223.3L196.3 229.8L191.8 228.9ZM208.9 224.0L205.8 229.9L202.8 226.4ZM188.3 227.3L192.4 232.4L188.0 233.9ZM203.9 228.9L200.6 234.7L197.6 231.2ZM213.5 232.6L208.2 236.5L206.9 232.1ZM213.4 225.4L219.8 227.1L217.1 230.9ZM226.5 224.2L231.3 228.8L227.2 230.8ZM237.4 225.5L238.5 232.0L234.0 231.2ZM220.3 229.9L226.6 231.8L223.8 235.5ZM230.5 231.5L235.1 236.2L230.9 238.1ZM203.1 226.7L207.7 231.4L203.5 233.3ZM217.2 226.4L217.6 233.0L213.2 231.7ZM227.4 228.7L224.8 234.7L221.5 231.6ZM196.7 231.3L202.8 233.9L199.6 237.3ZM211.1 231.1L213.6 237.2L209.0 237.3ZM222.4 234.5L219.6 240.5L216.4 237.3ZM212.2 213.4L206.1 215.9L206.0 211.3ZM221.2 215.2L214.9 217.1L215.2 212.6ZM189.3 219.4L193.0 213.9L195.7 217.6ZM206.6 220.0L200.2 218.5L202.8 214.7ZM215.9 222.1L209.3 221.7L211.2 217.5ZM233.2 215.4L226.7 216.6L227.4 212.1ZM200.7 218.1L206.2 214.4L207.3 218.9ZM213.7 220.2L216.7 214.3L219.8 217.7ZM226.5 223.4L221.5 219.0L225.6 216.8ZM222.0 220.3L227.5 216.7L228.5 221.2ZM232.0 224.5L234.3 218.4L237.8 221.4ZM201.7 222.4L195.4 224.3L195.7 219.7ZM210.7 225.2L204.2 226.6L204.9 222.0ZM222.9 226.3L216.3 226.8L217.5 222.4ZM192.7 221.9L190.6 215.7L195.2 215.8ZM234.9 223.1L232.8 216.9L237.4 217.0Z" fill="#666666"/>
<circle cx="214.1" cy="193.3" r="3.45" fill="#87ceeb" stroke="#222" stroke-width="0.5"/>
<circle cx="193.5" cy="198.8" r="3.45" fill="#87ceeb" stroke="#222" stroke-width="0.5"/>
<circle cx="235.4" cy="199.4" r="3.45" fill="#87ceeb" stroke="#222" stroke-width="0.5"/>
<circle cx="197.2" cy="213.7" r="3.45" fill="#ff0000" stroke="#222" stroke-width="0.5"/>
<circle cx="221.1" cy="213.3" r="3.45" fill="#ff0000" stroke="#222" stroke-width="0.5"/>
<circle cx="239.1" cy="216.4" r="3.45" fill="#fa8072" stroke="#222" stroke-width="0.5"/>
<circle cx="186.4" cy="221.5" r="3.45" fill="#ff0000" stroke="#222" stroke-width="0.5"/>
<circle cx="210.9" cy="222.9" r="3.45" fill="#fa8072" stroke="#222" stroke-width="0.5"/>
<circle cx="228.9" cy="228.0" r="3.45" fill="#ff0000" stroke="#222" stroke-width="0.5"/>
<circle cx="192.1" cy="238.9" r="3.45" fill="#87ceeb" stroke="#222" stroke-width="0.5"/>
<circle cx="234.6" cy="240.7" r="3.45" fill="#87ceeb" stroke="#222" stroke-width="0.5"/>
<circle cx="211.5" cy="245.4" r="3.45" fill="#87ceeb" stroke="#222" stroke-width="0.5"/>
<g font-family="'Liberation Sans', sans-serif" font-size="2.8px" text-anchor="middle" fill="#222">
<text x="214.1" y="194.3">E</text>
<text x="193.5" y="199.8">A</text>
<text x="235.4" y="200.4">C</text>
<text x="197.2" y="214.7">D</text>
<text x="221.1" y="214.3">B</text>
<text x="239.1" y="217.4">L</text>
<text x="186.4" y="222.5">K</text>
<text x="210.9" y="223.9">I</text>
<text x="228.9" y="229.0">G</text>
<text x="192.1" y="239.9">F</text>
<text x="234.6" y="241.7">J</text>
<text x="211.5" y="246.4">H</text>
</g>
</g>
<g id="net12">
<path d="M297.3 193.3L292.0 214.3M297.3 193.3L289.0 222.3M297.3 193.3L299.8 221.9M279.4 196.8L292.0 214.3M279.4 196.8L289.0 222.3M279.4 196.8L299.8 221.9M313.1 201.3L292.0 214.3M313.1 201.3L289.0 222.3M313.1 201.3L299.8 221.9M267.9 211.3L292.0 214.3M267.9 211.3L289.0 222.3M267.9 211.3L299.8 221.9M320.2 218.2L292.0 214.3M320.2 218.2L289.0 222.3M320.2 218.2L299.8 221.9M268.5 229.7L292.0 214.3M268.5 229.7L289.0 222.3M268.5 229.7L299.8 221.9M314.5 235.8L292.0 214.3M314.5 235.8L289.0 222.3M314.5 235.8L299.8 221.9M281.0 242.7L292.0 214.3M281.0 242.7L289.0 222.3M281.0 242.7L299.8 221.9M299.0 245.4L292.0 214.3M299.0 245.4L289.0 222.3M299.0 245.4L299.8 221.9M292.0 214.3L289.0 222.3M292.0 214.3L299.8 221.9M289.0 222.3L299.8 221.9" stroke="#666666" stroke-width="1.2" fill="none"/>
<path d="M293.4 208.9L292.6 202.3L297.1 203.5ZM295.8 199.1L296.5 205.7L292.1 204.6ZM291.5 213.7L291.0 207.1L295.4 208.4ZM294.7 202.5L295.2 209.1L290.7 207.8ZM299.1 213.5L296.2 207.6L300.8 207.2ZM298.1 202.2L300.9 208.2L296.3 208.6ZM288.8 209.8L283.3 206.1L287.0 203.4ZM282.9 201.6L288.4 205.3L284.6 208.0ZM286.3 215.0L281.9 210.0L286.2 208.4ZM282.3 204.6L286.7 209.6L282.4 211.2ZM293.6 214.3L287.9 210.9L291.5 208.0ZM286.0 204.9L291.7 208.3L288.1 211.2ZM297.8 210.7L301.9 205.5L304.3 209.4ZM306.9 205.1L302.8 210.3L300.4 206.4ZM296.3 215.9L299.5 210.1L302.5 213.6ZM305.3 208.1L302.2 213.9L299.1 210.4ZM303.4 216.3L304.9 209.8L308.7 212.3ZM309.2 207.3L307.8 213.8L303.9 211.3ZM285.4 213.5L279.0 215.0L279.6 210.4ZM274.9 212.2L281.4 210.7L280.8 215.2ZM283.3 219.3L276.7 218.5L278.9 214.4ZM274.0 214.5L280.6 215.3L278.4 219.4ZM290.0 218.6L283.4 218.9L284.8 214.5ZM278.4 214.8L285.0 214.5L283.5 218.9ZM300.2 215.4L306.7 214.0L306.0 218.6ZM311.4 217.0L305.0 218.4L305.6 213.9ZM298.4 221.1L304.3 218.0L304.9 222.5ZM310.2 219.5L304.3 222.6L303.7 218.0ZM304.9 221.0L310.6 217.6L311.4 222.1ZM314.7 219.2L309.0 222.6L308.2 218.0ZM285.2 218.8L281.3 224.1L278.7 220.2ZM275.8 224.9L279.7 219.6L282.2 223.5ZM283.7 224.2L278.7 228.5L277.1 224.1ZM274.2 227.6L279.2 223.4L280.8 227.7ZM290.3 224.3L284.8 228.0L283.7 223.5ZM278.6 227.2L284.1 223.4L285.2 227.9ZM298.8 220.8L304.8 223.4L301.7 226.7ZM307.3 228.9L301.2 226.3L304.4 223.0ZM296.5 226.2L303.0 227.1L300.9 231.2ZM306.5 231.6L300.0 230.7L302.1 226.6ZM303.4 225.3L309.5 227.9L306.4 231.3ZM310.6 232.1L304.5 229.5L307.7 226.2ZM288.7 222.8L288.6 229.4L284.3 227.7ZM284.5 233.7L284.6 227.1L288.9 228.7ZM286.9 227.6L286.8 234.2L282.5 232.5ZM283.2 237.0L283.4 230.4L287.6 232.1ZM294.4 227.9L291.9 234.1L288.5 231.0ZM286.8 236.3L289.3 230.1L292.7 233.2ZM294.1 223.7L297.7 229.3L293.2 230.3ZM296.7 235.4L293.1 229.8L297.6 228.8ZM291.8 228.7L296.3 233.5L292.1 235.3ZM296.0 238.5L291.5 233.8L295.7 231.9ZM299.6 228.2L301.7 234.5L297.1 234.3ZM299.2 238.6L297.1 232.4L301.7 232.5ZM289.4 221.2L289.4 214.6L293.7 216.2ZM298.1 220.3L292.1 217.6L295.3 214.3ZM297.5 222.0L291.4 224.5L291.2 219.9Z" fill="#666666"/>
<circle cx="297.3" cy="193.3" r="3.45" fill="#87ceeb" stroke="#222" stroke-width="0.5"/>
<circle cx="279.4" cy="196.8" r="3.45" fill="#87ceeb" stroke="#222" stroke-width="0.5"/>
<circle cx="313.1" cy="201.3" r="3.45" fill="#87ceeb" stroke="#222" stroke-width="0.5"/>
<circle cx="267.9" cy="211.3" r="3.45" fill="#87ceeb" stroke="#222" stroke-width="0.5"/>
<circle cx="292.0" cy="214.3" r="3.45" fill="#ff0000" stroke="#222" stroke-width="0.5"/>
<circle cx="320.2" cy="218.2" r="3.45" fill="#87ceeb" stroke="#222" stroke-width="0.5"/>
<circle cx="289.0" cy="222.3" r="3.45" fill="#ff0000" stroke="#222" stroke-width="0.5"/>
<circle cx="299.8" cy="221.9" r="3.45" fill="#fa8072" stroke="#222" stroke-width="0.5"/>
<circle cx="268.5" cy="229.7" r="3.45" fill="#87ceeb" stroke="#222" stroke-width="0.5"/>
<circle cx="314.5" cy="235.8" r="3.45" fill="#87ceeb" stroke="#222" stroke-width="0.5"/>
<circle cx="281.0" cy="242.7" r="3.45" fill="#87ceeb" stroke="#222" stroke-width="0.5"/>
<circle cx="299.0" cy="245.4" r="3.45" fill="#87ceeb" stroke="#222" stroke-width="0.5"/>
<g font-family="'Liberation Sans', sans-serif" font-size="2.8px" text-anchor="middle" fill="#222">
<text x="297.3" y="194.3">C</text>
<text x="279.4" y="197.8">L</text>
<text x="313.1" y="202.3">H</text>
<text x="267.9" y="212.3">M</text>
<text x="292.0" y="215.3">E</text>
<text x="320.2" y="219.2">I</text>
<text x="289.0" y="223.3">D</text>
<text x="299.8" y="222.9">K</text>
<text x="268.5" y="230.7">J</text>
<text x="314.5" y="236.8">F</text>
<text x="281.0" y="243.7">B</text>
<text x="299.0" y="246.4">G</text>
</g>
</g>
<g id="net13">
<path d="M44.1 274.6L33.7 281.3M44.1 274.6L53.5 280.3M44.1 274.6L37.2 299.3M44.1 274.6L46.2 309.5M33.7 281.3L53.5 280.3M33.7 281.3L23.3 296.0M33.7 281.3L37.2 299.3M33.7 281.3L53.3 301.2M53.5 280.3L75.8 287.1M53.5 280.3L65.6 295.0M53.5 280.3L53.3 301.2M53.5 280.3L37.2 299.3M53.5 280.3L23.3 296.0M75.8 287.1L65.6 295.0M70.5 312.0L75.8 287.1M65.6 295.0L53.3 301.2M65.6 295.0L70.5 312.0M65.6 295.0L37.2 299.3M23.3 296.0L37.2 299.3M23.3 296.0L31.9 314.6M37.2 299.3L53.3 301.2M37.2 299.3L31.9 314.6M37.2 299.3L46.2 309.5M37.2 299.3L50.3 326.7M53.3 301.2L46.2 309.5M53.3 301.2L50.3 326.7M46.2 309.5L70.5 312.0M46.2 309.5L31.9 314.6M46.2 309.5L50.3 326.7M31.9 314.6L50.3 326.7M50.3 326.7L70.5 312.0M23.3 296.0L53.3 301.2" stroke="#666666" stroke-width="1.2" fill="none"/>
<path d="M36.3 279.6L40.3 274.3L42.8 278.2ZM51.5 279.1L45.0 277.8L47.3 273.9ZM39.8 289.9L39.3 283.3L43.7 284.6ZM45.3 295.1L42.7 289.1L47.3 288.8ZM46.7 280.6L40.6 283.3L40.4 278.7ZM26.7 291.2L28.4 284.8L32.2 287.4ZM36.0 293.3L32.6 287.7L37.1 286.8ZM45.7 293.5L39.7 290.7L43.0 287.4ZM67.6 284.6L61.0 285.0L62.4 280.6ZM61.5 290.0L55.8 286.7L59.4 283.8ZM53.4 293.8L51.1 287.6L55.7 287.7ZM43.3 292.2L45.6 285.9L49.1 288.9ZM35.6 289.6L40.1 284.7L42.2 288.8ZM68.2 292.9L71.7 287.3L74.6 291.0ZM73.8 296.5L74.8 303.1L70.3 302.1ZM56.7 299.5L61.2 294.7L63.3 298.8ZM68.9 306.5L65.0 301.2L69.4 299.9ZM48.3 297.6L54.1 294.4L54.8 299.0ZM33.3 298.4L26.7 299.2L27.8 294.7ZM28.9 308.1L24.2 303.5L28.4 301.5ZM48.3 300.6L41.9 302.2L42.4 297.6ZM33.5 309.9L33.4 303.3L37.7 304.8ZM43.8 306.7L37.9 303.6L41.4 300.6ZM45.1 315.8L40.3 311.2L44.5 309.2ZM47.7 307.7L50.0 301.5L53.5 304.5ZM51.4 317.0L49.9 310.6L54.4 311.1ZM61.4 311.1L55.0 312.7L55.5 308.1ZM36.1 313.1L41.2 308.8L42.7 313.2ZM49.0 321.1L45.3 315.6L49.8 314.6ZM43.7 322.4L37.2 320.9L39.8 317.0ZM62.9 317.5L59.2 323.0L56.5 319.3ZM41.4 299.1L34.9 300.3L35.6 295.8Z" fill="#666666"/>
<circle cx="44.1" cy="274.6" r="3.45" fill="#cccccc" stroke="#222" stroke-width="0.5"/>
<circle cx="33.7" cy="281.3" r="3.45" fill="#fa8072" stroke="#222" stroke-width="0.5"/>
<circle cx="53.5" cy="280.3" r="3.45" fill="#ff0000" stroke="#222" stroke-width="0.5"/>
<circle cx="75.8" cy="287.1" r="3.45" fill="#fa8072" stroke="#222" stroke-width="0.5"/>
<circle cx="65.6" cy="295.0" r="3.45" fill="#ff0000" stroke="#222" stroke-width="0.5"/>
<circle cx="23.3" cy="296.0" r="3.45" fill="#fa8072" stroke="#222" stroke-width="0.5"/>
<circle cx="37.2" cy="299.3" r="3.45" fill="#fa8072" stroke="#222" stroke-width="0.5"/>
<circle cx="53.3" cy="301.2" r="3.45" fill="#cccccc" stroke="#222" stroke-width="0.5"/>
<circle cx="46.2" cy="309.5" r="3.45" fill="#fa8072" stroke="#222" stroke-width="0.5"/>
<circle cx="70.5" cy="312.0" r="3.45" fill="#fa8072" stroke="#222" stroke-width="0.5"/>
<circle cx="31.9" cy="314.6" r="3.45" fill="#fa8072" stroke="#222" stroke-width="0.5"/>
<circle cx="50.3" cy="326.7" r="3.45" fill="#fa8072" stroke="#222" stroke-width="0.5"/>
<g font-family="'Liberation Sans', sans-serif" font-size="2.8px" text-anchor="middle" fill="#222">
<text x="44.1" y="275.6">E</text>
<text x="33.7" y="282.3">M</text>
<text x="53.5" y="281.3">D</text>
<text x="75.8" y="288.1">L</text>
<text x="65.6" y="296.0">A</text>
<text x="23.3" y="297.0">C</text>
<text x="37.2" y="300.3">J</text>
<text x="53.3" y="302.2">I</text>
<text x="46.2" y="310.5">H</text>
<text x="70.5" y="313.0">F</text>
<text x="31.9" y="315.6">G</text>
<text x="50.3" y="327.7">K</text>
</g>
</g>
<g id="net14">
<path d="M121.7 274.6L131.9 287.1M121.7 274.6L148.0 295.6M121.7 274.6L116.8 298.3M121.7 274.6L133.3 302.4M121.7 274.6L104.7 306.9M147.8 278.7L131.9 287.1M147.8 278.7L148.0 295.6M147.8 278.7L116.8 298.3M147.8 278.7L133.3 302.4M147.8 278.7L143.1 313.6M104.9 287.1L131.9 287.1M104.9 287.1L116.8 298.3M104.9 287.1L133.3 302.4M104.9 287.1L104.7 306.9M157.2 309.5L131.9 287.1M157.2 309.5L148.0 295.6M157.2 309.5L116.8 298.3M157.2 309.5L133.3 302.4M157.2 309.5L143.1 313.6M114.7 321.6L131.9 287.1M114.7 321.6L148.0 295.6M114.7 321.6L116.8 298.3M114.7 321.6L133.3 302.4M114.7 321.6L104.7 306.9M114.7 321.6L143.1 313.6M131.7 326.7L131.9 287.1M131.7 326.7L148.0 295.6M131.7 326.7L116.8 298.3M131.7 326.7L133.3 302.4M131.7 326.7L104.7 306.9M131.7 326.7L143.1 313.6M131.9 287.1L148.0 295.6M131.9 287.1L116.8 298.3M131.9 287.1L133.3 302.4M131.9 287.1L104.7 306.9M131.9 287.1L143.1 313.6M148.0 295.6L116.8 298.3M148.0 295.6L133.3 302.4M148.0 295.6L143.1 313.6M116.8 298.3L133.3 302.4M116.8 298.3L104.7 306.9M116.8 298.3L143.1 313.6M133.3 302.4L104.7 306.9M133.3 302.4L143.1 313.6M104.7 306.9L143.1 313.6M121.7 274.6L104.9 287.1M147.8 278.7L157.2 309.5" stroke="#666666" stroke-width="1.2" fill="none"/>
<path d="M128.8 283.3L123.1 279.9L126.6 277.0ZM137.3 287.0L131.0 285.0L133.9 281.4ZM118.6 289.5L117.6 282.9L122.1 283.9ZM128.7 291.4L124.2 286.5L128.4 284.8ZM111.8 293.5L112.6 286.9L116.7 289.1ZM137.1 284.3L141.5 279.4L143.7 283.5ZM147.9 290.2L145.6 284.1L150.2 284.0ZM129.7 290.2L133.7 284.9L136.1 288.8ZM138.9 293.2L140.2 286.7L144.1 289.1ZM145.0 299.2L143.6 292.8L148.1 293.4ZM121.5 287.1L115.3 289.4L115.3 284.8ZM113.1 294.8L107.0 292.3L110.2 288.9ZM121.8 296.2L115.3 295.3L117.5 291.3ZM104.8 300.1L102.5 293.9L107.1 293.9ZM142.2 296.2L148.4 298.6L145.3 302.1ZM150.9 300.0L156.2 303.9L152.4 306.4ZM134.0 303.1L140.6 302.5L139.4 306.9ZM142.3 305.1L148.9 304.6L147.6 309.0ZM147.2 312.4L152.5 308.5L153.8 312.9ZM124.7 301.6L124.0 308.2L119.9 306.1ZM133.8 306.7L130.3 312.3L127.5 308.7ZM116.0 306.9L117.8 313.2L113.2 312.8ZM126.2 309.8L123.5 315.8L120.2 312.6ZM108.0 311.7L113.3 315.5L109.5 318.1ZM131.9 316.8L126.5 320.7L125.3 316.2ZM131.8 303.8L134.1 310.0L129.5 310.0ZM141.3 308.4L140.4 315.0L136.4 312.8ZM122.8 309.8L127.7 314.2L123.7 316.3ZM132.7 311.5L134.6 317.8L130.0 317.5ZM115.7 315.0L122.1 316.8L119.3 320.5ZM139.4 317.8L137.1 324.0L133.6 321.0ZM142.7 292.8L136.1 291.9L138.3 287.9ZM121.9 294.5L125.5 289.0L128.2 292.7ZM132.9 297.8L130.0 291.9L134.6 291.5ZM115.8 298.8L119.5 293.3L122.2 297.0ZM138.7 303.2L134.2 298.4L138.4 296.6ZM129.3 297.2L135.3 294.4L135.7 299.0ZM137.8 300.3L142.5 295.6L144.4 299.8ZM144.7 307.6L144.1 301.0L148.6 302.2ZM128.1 301.1L121.5 301.8L122.6 297.4ZM108.2 304.4L111.9 298.9L114.6 302.7ZM132.6 307.5L126.1 306.4L128.4 302.4ZM115.9 305.1L121.7 301.9L122.4 306.4ZM140.2 310.3L134.4 307.2L137.9 304.2ZM127.0 310.8L120.5 312.0L121.2 307.5ZM110.8 282.7L114.4 277.2L117.2 280.8ZM153.4 297.1L149.4 291.8L153.8 290.5Z" fill="#666666"/>
<circle cx="121.7" cy="274.6" r="3.45" fill="#87ceeb" stroke="#222" stroke-width="0.5"/>
<circle cx="147.8" cy="278.7" r="3.45" fill="#87ceeb" stroke="#222" stroke-width="0.5"/>
<circle cx="104.9" cy="287.1" r="3.45" fill="#87ceeb" stroke="#222" stroke-width="0.5"/>
<circle cx="131.9" cy="287.1" r="3.45" fill="#ff0000" stroke="#222" stroke-width="0.5"/>
<circle cx="148.0" cy="295.6" r="3.45" fill="#cccccc" stroke="#222" stroke-width="0.5"/>
<circle cx="116.8" cy="298.3" r="3.45" fill="#ff0000" stroke="#222" stroke-width="0.5"/>
<circle cx="133.3" cy="302.4" r="3.45" fill="#ff0000" stroke="#222" stroke-width="0.5"/>
<circle cx="104.7" cy="306.9" r="3.45" fill="#ff0000" stroke="#222" stroke-width="0.5"/>
<circle cx="157.2" cy="309.5" r="3.45" fill="#87ceeb" stroke="#222" stroke-width="0.5"/>
<circle cx="143.1" cy="313.6" r="3.45" fill="#fa8072" stroke="#222" stroke-width="0.5"/>
<circle cx="114.7" cy="321.6" r="3.45" fill="#87ceeb" stroke="#222" stroke-width="0.5"/>
<circle cx="131.7" cy="326.7" r="3.45" fill="#87ceeb" stroke="#222" stroke-width="0.5"/>
<g font-family="'Liberation Sans', sans-serif" font-size="2.8px" text-anchor="middle" fill="#222">
<text x="121.7" y="275.6">I</text>
<text x="147.8" y="279.7">A</text>
<text x="104.9" y="288.1">M</text>
<text x="131.9" y="288.1">E</text>
<text x="148.0" y="296.6">F</text>
<text x="116.8" y="299.3">K</text>
<text x="133.3" y="303.4">H</text>
<text x="104.7" y="307.9">B</text>
<text x="157.2" y="310.5">D</text>
<text x="143.1" y="314.6">G</text>
<text x="114.7" y="322.6">L</text>
<text x="131.7" y="327.7">J</text>
</g>
</g>
<g id="net15">
<path d="M201.1 275.2L218.0 289.5M201.1 275.2L201.7 291.1M201.1 275.2L223.5 299.7M201.1 275.2L202.7 307.5M201.1 275.2L219.0 311.0M223.1 274.6L218.0 289.5M223.1 274.6L201.7 291.1M223.1 274.6L223.5 299.7M223.1 274.6L202.7 307.5M223.1 274.6L219.0 311.0M239.1 291.5L218.0 289.5M239.1 291.5L201.7 291.1M239.1 291.5L223.5 299.7M239.1 291.5L202.7 307.5M239.1 291.5L219.0 311.0M186.4 296.0L218.0 289.5M186.4 296.0L201.7 291.1M186.4 296.0L223.5 299.7M186.4 296.0L202.7 307.5M186.4 296.0L219.0 311.0M235.0 315.0L218.0 289.5M235.0 315.0L201.7 291.1M235.0 315.0L223.5 299.7M235.0 315.0L202.7 307.5M235.0 315.0L219.0 311.0M193.7 318.5L218.0 289.5M193.7 318.5L201.7 291.1M193.7 318.5L223.5 299.7M193.7 318.5L202.7 307.5M193.7 318.5L219.0 311.0M213.5 326.7L218.0 289.5M213.5 326.7L201.7 291.1M213.5 326.7L223.5 299.7M213.5 326.7L202.7 307.5M213.5 326.7L219.0 311.0M218.0 289.5L201.7 291.1M218.0 289.5L223.5 299.7M218.0 289.5L202.7 307.5M218.0 289.5L219.0 311.0M201.7 291.1L223.5 299.7M201.7 291.1L202.7 307.5M201.7 291.1L219.0 311.0M223.5 299.7L202.7 307.5M223.5 299.7L219.0 311.0M202.7 307.5L219.0 311.0" stroke="#666666" stroke-width="1.2" fill="none"/>
<path d="M213.6 285.8L207.4 283.5L210.4 280.0ZM205.8 279.2L212.1 281.5L209.1 285.0ZM201.6 287.8L199.0 281.7L203.6 281.6ZM201.2 278.8L203.8 284.9L199.2 285.1ZM216.6 292.2L210.8 289.2L214.1 286.1ZM208.4 283.2L214.3 286.2L210.9 289.3ZM202.2 297.7L199.6 291.6L204.2 291.4ZM201.6 285.7L204.2 291.7L199.6 292.0ZM213.2 299.5L208.4 294.9L212.5 292.9ZM207.2 287.5L212.1 292.0L207.9 294.0ZM219.0 286.5L218.9 279.9L223.2 281.4ZM222.0 277.9L222.1 284.5L217.8 283.0ZM207.8 286.4L211.3 280.8L214.1 284.4ZM216.6 279.6L213.1 285.2L210.3 281.6ZM223.4 292.8L221.0 286.6L225.6 286.5ZM223.2 282.0L225.6 288.2L221.0 288.3ZM209.2 297.0L210.5 290.5L214.4 292.9ZM216.2 285.8L214.9 292.3L210.9 289.8ZM220.3 299.5L218.7 293.1L223.3 293.6ZM221.7 286.8L223.3 293.2L218.7 292.7ZM223.4 290.0L229.7 288.3L229.3 292.9ZM233.3 291.0L226.9 292.7L227.4 288.1ZM213.6 291.2L219.8 289.0L219.7 293.6ZM226.5 291.4L220.3 293.6L220.3 289.0ZM227.0 297.9L231.4 292.9L233.6 297.0ZM235.3 293.5L230.9 298.4L228.7 294.4ZM214.4 302.3L219.2 297.7L221.0 302.0ZM226.6 297.0L221.9 301.6L220.0 297.4ZM224.8 305.4L227.7 299.4L230.9 302.7ZM232.9 297.5L230.0 303.5L226.8 300.2ZM208.4 291.5L202.8 295.0L201.9 290.5ZM196.6 293.9L202.2 290.4L203.2 294.9ZM198.5 292.1L193.3 296.2L191.9 291.8ZM189.9 294.9L195.1 290.8L196.5 295.2ZM211.7 298.5L205.3 300.2L205.8 295.6ZM198.9 297.2L205.3 295.6L204.8 300.2ZM198.7 304.7L192.3 303.0L195.0 299.2ZM190.7 299.0L197.1 300.7L194.5 304.5ZM208.8 306.3L202.2 305.8L204.1 301.6ZM197.3 301.0L203.9 301.5L201.9 305.7ZM223.1 297.1L228.4 301.0L224.6 303.6ZM229.6 306.9L224.2 303.0L228.1 300.4ZM212.5 298.9L218.9 300.6L216.2 304.3ZM223.5 306.8L217.2 305.0L219.8 301.3ZM226.2 303.3L231.8 306.9L228.1 309.7ZM232.0 311.1L226.5 307.5L230.1 304.7ZM212.6 309.8L219.2 309.0L218.1 313.4ZM224.5 312.6L217.9 313.4L218.9 308.9ZM222.4 311.8L229.0 311.1L227.8 315.6ZM231.3 314.1L224.7 314.8L225.8 310.3ZM210.3 298.7L208.1 305.0L204.5 302.0ZM201.9 308.7L204.1 302.5L207.7 305.4ZM199.4 299.1L199.8 305.7L195.4 304.4ZM196.2 310.0L195.7 303.4L200.1 304.7ZM214.2 305.6L210.2 310.8L207.7 306.9ZM203.6 312.3L207.6 307.0L210.1 310.9ZM201.1 309.5L198.9 315.8L195.4 312.8ZM195.5 316.3L197.7 310.0L201.2 312.9ZM211.9 313.1L206.6 317.1L205.3 312.7ZM201.4 316.2L206.6 312.3L208.0 316.7ZM216.6 301.3L218.1 307.7L213.5 307.2ZM215.0 314.2L213.5 307.7L218.0 308.3ZM205.4 302.4L209.6 307.6L205.2 309.0ZM209.5 314.7L205.4 309.5L209.8 308.1ZM220.6 307.6L220.6 314.2L216.3 312.6ZM216.6 318.3L216.6 311.7L220.9 313.3ZM205.5 312.5L210.5 316.8L206.5 319.0ZM210.5 321.3L205.4 317.1L209.4 314.8ZM217.8 314.4L217.9 321.0L213.6 319.4ZM214.8 323.0L214.7 316.4L219.0 317.9ZM206.8 290.6L212.7 287.7L213.2 292.3ZM222.2 297.3L217.3 293.0L221.3 290.8ZM208.3 300.9L210.6 294.6L214.1 297.6ZM218.6 303.3L216.1 297.3L220.7 297.0ZM215.5 296.5L208.9 296.4L210.6 292.1ZM202.4 302.4L199.7 296.3L204.3 296.1ZM212.4 303.4L206.6 300.2L210.1 297.2ZM210.2 304.7L215.2 300.4L216.8 304.7ZM220.1 308.2L220.3 301.6L224.5 303.3ZM213.9 309.9L207.3 310.8L208.3 306.4Z" fill="#666666"/>
<circle cx="201.1" cy="275.2" r="3.45" fill="#87ceeb" stroke="#222" stroke-width="0.5"/>
<circle cx="223.1" cy="274.6" r="3.45" fill="#87ceeb" stroke="#222" stroke-width="0.5"/>
<circle cx="218.0" cy="289.5" r="3.45" fill="#fa8072" stroke="#222" stroke-width="0.5"/>
<circle cx="201.7" cy="291.1" r="3.45" fill="#ff0000" stroke="#222" stroke-width="0.5"/>
<circle cx="239.1" cy="291.5" r="3.45" fill="#87ceeb" stroke="#222" stroke-width="0.5"/>
<circle cx="186.4" cy="296.0" r="3.45" fill="#87ceeb" stroke="#222" stroke-width="0.5"/>
<circle cx="223.5" cy="299.7" r="3.45" fill="#ff0000" stroke="#222" stroke-width="0.5"/>
<circle cx="202.7" cy="307.5" r="3.45" fill="#ff0000" stroke="#222" stroke-width="0.5"/>
<circle cx="219.0" cy="311.0" r="3.45" fill="#ff0000" stroke="#222" stroke-width="0.5"/>
<circle cx="235.0" cy="315.0" r="3.45" fill="#87ceeb" stroke="#222" stroke-width="0.5"/>
<circle cx="193.7" cy="318.5" r="3.45" fill="#87ceeb" stroke="#222" stroke-width="0.5"/>
<circle cx="213.5" cy="326.7" r="3.45" fill="#87ceeb" stroke="#222" stroke-width="0.5"/>
<g font-family="'Liberation Sans', sans-serif" font-size="2.8px" text-anchor="middle" fill="#222">
<text x="201.1" y="276.2">M</text>
<text x="223.1" y="275.6">I</text>
<text x="218.0" y="290.5">C</text>
<text x="201.7" y="292.1">K</text>
<text x="239.1" y="292.5">J</text>
<text x="186.4" y="297.0">L</text>
<text x="223.5" y="300.7">G</text>
<text x="202.7" y="308.5">D</text>
<text x="219.0" y="312.0">H</text>
<text x="235.0" y="316.0">E</text>
<text x="193.7" y="319.5">F</text>
<text x="213.5" y="327.7">B</text>
</g>
</g>
<g id="net16">
<path d="M295.9 274.6L289.8 298.3M295.9 274.6L298.2 298.7M295.9 274.6L293.7 306.3M278.7 279.3L289.8 298.3M278.7 279.3L298.2 298.7M278.7 279.3L293.7 306.3M312.5 281.9L289.8 298.3M312.5 281.9L298.2 298.7M312.5 281.9L293.7 306.3M267.9 294.2L289.8 298.3M267.9 294.2L298.2 298.7M267.9 294.2L293.7 306.3M320.4 298.3L289.8 298.3M320.4 298.3L298.2 298.7M320.4 298.3L293.7 306.3M270.0 312.4L289.8 298.3M270.0 312.4L298.2 298.7M270.0 312.4L293.7 306.3M315.7 316.1L289.8 298.3M315.7 316.1L298.2 298.7M315.7 316.1L293.7 306.3M282.8 325.3L289.8 298.3M282.8 325.3L298.2 298.7M282.8 325.3L293.7 306.3M300.8 326.7L289.8 298.3M300.8 326.7L298.2 298.7M300.8 326.7L293.7 306.3M289.8 298.3L298.2 298.7M289.8 298.3L293.7 306.3M298.2 298.7L293.7 306.3" stroke="#666666" stroke-width="1.2" fill="none"/>
<path d="M291.5 291.8L290.8 285.2L295.2 286.4ZM294.1 281.6L294.8 288.1L290.3 287.0ZM297.6 292.1L294.7 286.2L299.3 285.8ZM296.6 281.6L299.5 287.6L294.9 288.0ZM294.4 296.7L292.5 290.4L297.1 290.7ZM295.2 284.8L297.1 291.2L292.5 290.8ZM286.9 293.4L281.8 289.2L285.8 286.9ZM281.8 284.6L286.9 288.8L282.9 291.1ZM292.6 293.1L286.6 290.4L289.8 287.1ZM284.7 285.3L290.7 288.0L287.5 291.3ZM289.2 298.2L284.2 293.9L288.2 291.7ZM283.5 287.9L288.5 292.2L284.5 294.5ZM296.4 293.6L300.0 288.1L302.7 291.8ZM305.5 287.0L301.8 292.5L299.1 288.7ZM301.9 294.3L304.2 288.1L307.7 291.1ZM308.5 286.6L306.2 292.8L302.7 289.8ZM299.3 299.0L301.3 292.7L304.9 295.5ZM306.5 289.7L304.5 296.0L300.9 293.2ZM284.1 297.2L277.6 298.4L278.4 293.8ZM274.1 295.4L280.6 294.2L279.7 298.8ZM289.1 297.4L282.7 298.7L283.4 294.2ZM277.6 295.6L284.0 294.3L283.4 298.8ZM286.2 302.8L279.6 302.2L281.5 298.1ZM275.9 298.0L282.5 298.5L280.6 302.7ZM298.9 298.3L305.1 296.0L305.1 300.6ZM310.6 298.3L304.4 300.6L304.4 296.0ZM304.0 298.6L310.1 296.2L310.2 300.8ZM314.2 298.4L308.0 300.8L307.9 296.2ZM301.4 304.0L306.7 300.0L308.0 304.4ZM312.2 300.8L306.9 304.8L305.6 300.3ZM284.4 302.1L280.7 307.6L278.0 303.9ZM275.8 308.3L279.5 302.8L282.2 306.6ZM289.7 302.8L285.1 307.6L283.1 303.5ZM279.1 308.0L283.6 303.2L285.6 307.4ZM287.2 308.0L281.8 311.7L280.6 307.3ZM277.0 310.6L282.4 306.8L283.5 311.3ZM297.6 303.7L304.0 305.3L301.4 309.1ZM307.4 310.4L301.0 308.8L303.6 305.0ZM303.0 303.5L309.0 306.2L305.8 309.5ZM310.5 311.0L304.5 308.2L307.8 305.0ZM299.7 309.0L306.3 309.4L304.4 313.6ZM309.3 313.2L302.7 312.8L304.6 308.6ZM287.8 306.1L288.4 312.7L284.0 311.5ZM285.0 317.0L284.3 310.4L288.7 311.5ZM293.6 306.7L292.5 313.2L288.5 310.9ZM287.7 316.8L288.8 310.3L292.8 312.6ZM290.9 311.2L289.8 317.7L285.8 315.4ZM285.8 320.0L286.9 313.5L290.9 315.8ZM293.1 306.8L297.5 311.7L293.2 313.4ZM297.3 317.7L292.9 312.7L297.2 311.1ZM299.0 306.8L301.8 312.8L297.2 313.2ZM300.0 318.0L297.1 312.1L301.7 311.6ZM295.5 311.5L299.7 316.6L295.4 318.1ZM298.8 321.1L294.6 316.0L299.0 314.4ZM297.1 298.6L290.8 300.6L291.0 296.1ZM293.1 305.1L288.3 300.5L292.5 298.5ZM294.4 305.2L295.6 298.7L299.5 301.0Z" fill="#666666"/>
<circle cx="295.9" cy="274.6" r="3.45" fill="#87ceeb" stroke="#222" stroke-width="0.5"/>
<circle cx="278.7" cy="279.3" r="3.45" fill="#87ceeb" stroke="#222" stroke-width="0.5"/>
<circle cx="312.5" cy="281.9" r="3.45" fill="#87ceeb" stroke="#222" stroke-width="0.5"/>
<circle cx="267.9" cy="294.2" r="3.45" fill="#87ceeb" stroke="#222" stroke-width="0.5"/>
<circle cx="289.8" cy="298.3" r="3.45" fill="#fa8072" stroke="#222" stroke-width="0.5"/>
<circle cx="298.2" cy="298.7" r="3.45" fill="#ff0000" stroke="#222" stroke-width="0.5"/>
<circle cx="320.4" cy="298.3" r="3.45" fill="#87ceeb" stroke="#222" stroke-width="0.5"/>
<circle cx="293.7" cy="306.3" r="3.45" fill="#ff0000" stroke="#222" stroke-width="0.5"/>
<circle cx="270.0" cy="312.4" r="3.45" fill="#87ceeb" stroke="#222" stroke-width="0.5"/>
<circle cx="315.7" cy="316.1" r="3.45" fill="#87ceeb" stroke="#222" stroke-width="0.5"/>
<circle cx="282.8" cy="325.3" r="3.45" fill="#87ceeb" stroke="#222" stroke-width="0.5"/>
<circle cx="300.8" cy="326.7" r="3.45" fill="#87ceeb" stroke="#222" stroke-width="0.5"/>
<g font-family="'Liberation Sans', sans-serif" font-size="2.8px" text-anchor="middle" fill="#222">
<text x="295.9" y="275.6">M</text>
<text x="278.7" y="280.3">K</text>
<text x="312.5" y="282.9">D</text>
<text x="267.9" y="295.2">F</text>
<text x="289.8" y="299.3">G</text>
<text x="298.2" y="299.7">A</text>
<text x="320.4" y="299.3">B</text>
<text x="293.7" y="307.3">H</text>
<text x="270.0" y="313.4">L</text>
<text x="315.7" y="317.1">I</text>
<text x="282.8" y="326.3">J</text>
<text x="300.8" y="327.7">E</text>
</g>
</g>
<g id="bp00">
<rect x="387.00" y="14.60" width="65.9" height="65.7" fill="none" stroke="#222" stroke-width="0.6"/>
<path d="M395.5 67.6V66.7M395.5 63.6V62.1" stroke="#222" stroke-width="0.4" stroke-dasharray="0.9 0.5" fill="none"/>
<path d="M393.1 67.6H398.0M393.1 62.1H398.0" stroke="#333" stroke-width="0.4" fill="none"/>
<rect x="390.7" y="63.6" width="9.8" height="3.0" fill="#d0d0d0" stroke="#111" stroke-width="0.45"/>
<path d="M390.7 65.1H400.4" stroke="#000" stroke-width="1.15"/>
<path d="M407.7 68.2V67.3M407.7 63.3V62.4" stroke="#222" stroke-width="0.4" stroke-dasharray="0.9 0.5" fill="none"/>
<path d="M405.3 68.2H410.2M405.3 62.4H410.2" stroke="#333" stroke-width="0.4" fill="none"/>
<rect x="402.9" y="63.3" width="9.8" height="4.0" fill="#d0d0d0" stroke="#111" stroke-width="0.45"/>
<path d="M402.9 65.7H412.6" stroke="#000" stroke-width="1.15"/>
<path d="M419.9 55.1V54.2M419.9 52.4V50.5" stroke="#222" stroke-width="0.4" stroke-dasharray="0.9 0.5" fill="none"/>
<path d="M417.5 55.1H422.4M417.5 50.5H422.4" stroke="#333" stroke-width="0.4" fill="none"/>
<rect x="415.1" y="52.4" width="9.8" height="1.8" fill="#d0d0d0" stroke="#111" stroke-width="0.45"/>
<path d="M415.1 53.3H424.8" stroke="#000" stroke-width="1.15"/>
<circle cx="419.9" cy="59.6" r="0.5" fill="none" stroke="#111" stroke-width="0.4"/>
<path d="M432.2 72.6V70.3M432.2 67.9V64.5" stroke="#222" stroke-width="0.4" stroke-dasharray="0.9 0.5" fill="none"/>
<path d="M429.7 72.6H434.6M429.7 64.5H434.6" stroke="#333" stroke-width="0.4" fill="none"/>
<rect x="427.3" y="67.9" width="9.8" height="2.4" fill="#d0d0d0" stroke="#111" stroke-width="0.45"/>
<path d="M427.3 69.1H437.0" stroke="#000" stroke-width="1.15"/>
<path d="M444.4 75.8V74.9M444.4 72.7V71.8" stroke="#222" stroke-width="0.4" stroke-dasharray="0.9 0.5" fill="none"/>
<path d="M441.9 75.8H446.8M441.9 71.8H446.8" stroke="#333" stroke-width="0.4" fill="none"/>
<rect x="439.5" y="72.7" width="9.8" height="2.1" fill="#d0d0d0" stroke="#111" stroke-width="0.45"/>
<path d="M439.5 74.0H449.2" stroke="#000" stroke-width="1.15"/>
<polyline points="395.5,65.1 407.7,65.7 419.9,53.3 432.2,69.1 444.4,74.0" fill="none" stroke="#000" stroke-width="0.5"/>
</g>
<g id="bp01">
<rect x="464.20" y="14.60" width="65.9" height="65.7" fill="none" stroke="#222" stroke-width="0.6"/>
<path d="M472.7 69.1V67.2M472.7 63.6V61.4" stroke="#222" stroke-width="0.4" stroke-dasharray="0.9 0.5" fill="none"/>
<path d="M470.3 69.1H475.2M470.3 61.4H475.2" stroke="#333" stroke-width="0.4" fill="none"/>
<rect x="467.9" y="63.6" width="9.8" height="3.6" fill="#d0d0d0" stroke="#111" stroke-width="0.45"/>
<path d="M467.9 65.4H477.6" stroke="#000" stroke-width="1.15"/>
<path d="M484.9 71.3V66.5M484.9 62.8V60.3" stroke="#222" stroke-width="0.4" stroke-dasharray="0.9 0.5" fill="none"/>
<path d="M482.5 71.3H487.4M482.5 60.3H487.4" stroke="#333" stroke-width="0.4" fill="none"/>
<rect x="480.1" y="62.8" width="9.8" height="3.7" fill="#d0d0d0" stroke="#111" stroke-width="0.45"/>
<path d="M480.1 64.8H489.8" stroke="#000" stroke-width="1.15"/>
<path d="M497.1 59.2V56.1M497.1 50.0V43.8" stroke="#222" stroke-width="0.4" stroke-dasharray="0.9 0.5" fill="none"/>
<path d="M494.7 59.2H499.6M494.7 43.8H499.6" stroke="#333" stroke-width="0.4" fill="none"/>
<rect x="492.3" y="50.0" width="9.8" height="6.1" fill="#d0d0d0" stroke="#111" stroke-width="0.45"/>
<path d="M492.3 52.2H502.0" stroke="#000" stroke-width="1.15"/>
<path d="M509.4 75.3V71.3M509.4 66.5V60.6" stroke="#222" stroke-width="0.4" stroke-dasharray="0.9 0.5" fill="none"/>
<path d="M506.9 75.3H511.8M506.9 60.6H511.8" stroke="#333" stroke-width="0.4" fill="none"/>
<rect x="504.5" y="66.5" width="9.8" height="4.9" fill="#d0d0d0" stroke="#111" stroke-width="0.45"/>
<path d="M504.5 69.1H514.2" stroke="#000" stroke-width="1.15"/>
<path d="M521.6 77.3V76.6M521.6 74.9V73.5" stroke="#222" stroke-width="0.4" stroke-dasharray="0.9 0.5" fill="none"/>
<path d="M519.1 77.3H524.0M519.1 73.5H524.0" stroke="#333" stroke-width="0.4" fill="none"/>
<rect x="516.7" y="74.9" width="9.8" height="1.8" fill="#d0d0d0" stroke="#111" stroke-width="0.45"/>
<path d="M516.7 75.7H526.4" stroke="#000" stroke-width="1.15"/>
<polyline points="472.7,65.4 484.9,64.8 497.1,52.2 509.4,69.1 521.6,75.7" fill="none" stroke="#000" stroke-width="0.5"/>
</g>
<g id="bp02">
<rect x="541.40" y="14.60" width="65.9" height="65.7" fill="none" stroke="#222" stroke-width="0.6"/>
<path d="M549.9 67.6V66.7M549.9 65.0V62.8" stroke="#222" stroke-width="0.4" stroke-dasharray="0.9 0.5" fill="none"/>
<path d="M547.5 67.6H552.4M547.5 62.8H552.4" stroke="#333" stroke-width="0.4" fill="none"/>
<rect x="545.1" y="65.0" width="9.8" height="1.8" fill="#d0d0d0" stroke="#111" stroke-width="0.45"/>
<path d="M545.1 65.8H554.8" stroke="#000" stroke-width="1.15"/>
<path d="M562.1 67.1V66.0M562.1 63.9V62.1" stroke="#222" stroke-width="0.4" stroke-dasharray="0.9 0.5" fill="none"/>
<path d="M559.7 67.1H564.6M559.7 62.1H564.6" stroke="#333" stroke-width="0.4" fill="none"/>
<rect x="557.3" y="63.9" width="9.8" height="2.2" fill="#d0d0d0" stroke="#111" stroke-width="0.45"/>
<path d="M557.3 65.0H567.0" stroke="#000" stroke-width="1.15"/>
<path d="M574.4 58.8V56.1M574.4 52.2V49.5" stroke="#222" stroke-width="0.4" stroke-dasharray="0.9 0.5" fill="none"/>
<path d="M571.9 58.8H576.8M571.9 49.5H576.8" stroke="#333" stroke-width="0.4" fill="none"/>
<rect x="569.5" y="52.2" width="9.8" height="4.0" fill="#d0d0d0" stroke="#111" stroke-width="0.45"/>
<path d="M569.5 54.2H579.2" stroke="#000" stroke-width="1.15"/>
<circle cx="574.4" cy="46.7" r="0.5" fill="none" stroke="#111" stroke-width="0.4"/>
<path d="M586.6 70.9V69.8M586.6 65.4V63.9" stroke="#222" stroke-width="0.4" stroke-dasharray="0.9 0.5" fill="none"/>
<path d="M584.1 70.9H589.0M584.1 63.9H589.0" stroke="#333" stroke-width="0.4" fill="none"/>
<rect x="581.7" y="65.4" width="9.8" height="4.4" fill="#d0d0d0" stroke="#111" stroke-width="0.45"/>
<path d="M581.7 67.6H591.4" stroke="#000" stroke-width="1.15"/>
<path d="M598.8 76.7V76.0M598.8 73.3V72.0" stroke="#222" stroke-width="0.4" stroke-dasharray="0.9 0.5" fill="none"/>
<path d="M596.3 76.7H601.2M596.3 72.0H601.2" stroke="#333" stroke-width="0.4" fill="none"/>
<rect x="593.9" y="73.3" width="9.8" height="2.6" fill="#d0d0d0" stroke="#111" stroke-width="0.45"/>
<path d="M593.9 74.6H603.6" stroke="#000" stroke-width="1.15"/>
<polyline points="549.9,65.8 562.1,65.0 574.4,54.2 586.6,67.6 598.8,74.6" fill="none" stroke="#000" stroke-width="0.5"/>
</g>
<g id="bp03">
<rect x="618.60" y="14.60" width="65.9" height="65.7" fill="none" stroke="#222" stroke-width="0.6"/>
<path d="M627.1 68.2V67.1M627.1 63.9V60.3" stroke="#222" stroke-width="0.4" stroke-dasharray="0.9 0.5" fill="none"/>
<path d="M624.7 68.2H629.6M624.7 60.3H629.6" stroke="#333" stroke-width="0.4" fill="none"/>
<rect x="622.3" y="63.9" width="9.8" height="3.3" fill="#d0d0d0" stroke="#111" stroke-width="0.45"/>
<path d="M622.3 66.0H632.0" stroke="#000" stroke-width="1.15"/>
<path d="M639.3 70.2V68.1M639.3 65.0V63.2" stroke="#222" stroke-width="0.4" stroke-dasharray="0.9 0.5" fill="none"/>
<path d="M636.9 70.2H641.8M636.9 63.2H641.8" stroke="#333" stroke-width="0.4" fill="none"/>
<rect x="634.5" y="65.0" width="9.8" height="3.1" fill="#d0d0d0" stroke="#111" stroke-width="0.45"/>
<path d="M634.5 66.5H644.2" stroke="#000" stroke-width="1.15"/>
<path d="M651.6 56.3V55.5M651.6 53.1V50.4" stroke="#222" stroke-width="0.4" stroke-dasharray="0.9 0.5" fill="none"/>
<path d="M649.1 56.3H654.0M649.1 50.4H654.0" stroke="#333" stroke-width="0.4" fill="none"/>
<rect x="646.7" y="53.1" width="9.8" height="2.4" fill="#d0d0d0" stroke="#111" stroke-width="0.45"/>
<path d="M646.7 54.4H656.4" stroke="#000" stroke-width="1.15"/>
<circle cx="651.6" cy="48.7" r="0.5" fill="none" stroke="#111" stroke-width="0.4"/>
<path d="M663.8 69.7V68.7M663.8 65.8V64.8" stroke="#222" stroke-width="0.4" stroke-dasharray="0.9 0.5" fill="none"/>
<path d="M661.3 69.7H666.2M661.3 64.8H666.2" stroke="#333" stroke-width="0.4" fill="none"/>
<rect x="658.9" y="65.8" width="9.8" height="2.9" fill="#d0d0d0" stroke="#111" stroke-width="0.45"/>
<path d="M658.9 67.1H668.6" stroke="#000" stroke-width="1.15"/>
<path d="M676.0 76.1V75.3M676.0 73.1V72.4" stroke="#222" stroke-width="0.4" stroke-dasharray="0.9 0.5" fill="none"/>
<path d="M673.5 76.1H678.4M673.5 72.4H678.4" stroke="#333" stroke-width="0.4" fill="none"/>
<rect x="671.1" y="73.1" width="9.8" height="2.2" fill="#d0d0d0" stroke="#111" stroke-width="0.45"/>
<path d="M671.1 74.2H680.8" stroke="#000" stroke-width="1.15"/>
<polyline points="627.1,66.0 639.3,66.5 651.6,54.4 663.8,67.1 676.0,74.2" fill="none" stroke="#000" stroke-width="0.5"/>
</g>
<path d="M384.9 77.6H387.0M384.9 65.4H387.0M384.9 53.3H387.0M384.9 41.1H387.0M384.9 29.0H387.0M384.9 16.8H387.0" stroke="#222" stroke-width="0.5"/>
<g font-family="'Liberation Sans', sans-serif" font-size="6.2px" text-anchor="middle" fill="#000" stroke="#000" stroke-width="0.12">
<text transform="translate(382.7,77.6) rotate(-90)">0</text>
<text transform="translate(382.7,65.4) rotate(-90)">20</text>
<text transform="translate(382.7,53.3) rotate(-90)">40</text>
<text transform="translate(382.7,41.1) rotate(-90)">60</text>
<text transform="translate(382.7,29.0) rotate(-90)">80</text>
</g>
<g id="bp10">
<rect x="387.00" y="91.60" width="65.9" height="65.7" fill="none" stroke="#222" stroke-width="0.6"/>
<path d="M395.5 149.6V146.1M395.5 138.7V133.7" stroke="#222" stroke-width="0.4" stroke-dasharray="0.9 0.5" fill="none"/>
<path d="M393.1 149.6H398.0M393.1 133.7H398.0" stroke="#333" stroke-width="0.4" fill="none"/>
<rect x="390.7" y="138.7" width="9.8" height="7.5" fill="#d0d0d0" stroke="#111" stroke-width="0.45"/>
<path d="M390.7 141.7H400.4" stroke="#000" stroke-width="1.15"/>
<path d="M407.7 143.7V142.5M407.7 131.4V128.5" stroke="#222" stroke-width="0.4" stroke-dasharray="0.9 0.5" fill="none"/>
<path d="M405.3 143.7H410.2M405.3 128.5H410.2" stroke="#333" stroke-width="0.4" fill="none"/>
<rect x="402.9" y="131.4" width="9.8" height="11.1" fill="#d0d0d0" stroke="#111" stroke-width="0.45"/>
<path d="M402.9 136.7H412.6" stroke="#000" stroke-width="1.15"/>
<path d="M419.9 148.6V143.4M419.9 138.5V137.9" stroke="#222" stroke-width="0.4" stroke-dasharray="0.9 0.5" fill="none"/>
<path d="M417.5 148.6H422.4M417.5 137.9H422.4" stroke="#333" stroke-width="0.4" fill="none"/>
<rect x="415.1" y="138.5" width="9.8" height="4.9" fill="#d0d0d0" stroke="#111" stroke-width="0.45"/>
<path d="M415.1 139.6H424.8" stroke="#000" stroke-width="1.15"/>
<circle cx="419.9" cy="150.5" r="0.5" fill="none" stroke="#111" stroke-width="0.4"/>
<path d="M432.2 142.8V141.7M432.2 138.5V134.4" stroke="#222" stroke-width="0.4" stroke-dasharray="0.9 0.5" fill="none"/>
<path d="M429.7 142.8H434.6M429.7 134.4H434.6" stroke="#333" stroke-width="0.4" fill="none"/>
<rect x="427.3" y="138.5" width="9.8" height="3.2" fill="#d0d0d0" stroke="#111" stroke-width="0.45"/>
<path d="M427.3 139.8H437.0" stroke="#000" stroke-width="1.15"/>
<circle cx="432.2" cy="133.3" r="0.5" fill="none" stroke="#111" stroke-width="0.4"/>
<circle cx="432.2" cy="146.1" r="0.5" fill="none" stroke="#111" stroke-width="0.4"/>
<circle cx="432.2" cy="151.1" r="0.5" fill="none" stroke="#111" stroke-width="0.4"/>
<path d="M444.4 154.9V154.8M444.4 153.2V152.5" stroke="#222" stroke-width="0.4" stroke-dasharray="0.9 0.5" fill="none"/>
<path d="M441.9 154.9H446.8M441.9 152.5H446.8" stroke="#333" stroke-width="0.4" fill="none"/>
<rect x="439.5" y="153.2" width="9.8" height="1.6" fill="#d0d0d0" stroke="#111" stroke-width="0.45"/>
<path d="M439.5 154.0H449.2" stroke="#000" stroke-width="1.15"/>
<circle cx="444.4" cy="150.5" r="0.5" fill="none" stroke="#111" stroke-width="0.4"/>
<polyline points="395.5,141.7 407.7,136.7 419.9,139.6 432.2,139.8 444.4,154.0" fill="none" stroke="#000" stroke-width="0.5"/>
</g>
<g id="bp11">
<rect x="464.20" y="91.60" width="65.9" height="65.7" fill="none" stroke="#222" stroke-width="0.6"/>
<path d="M472.7 152.1V148.3M472.7 142.2V138.8" stroke="#222" stroke-width="0.4" stroke-dasharray="0.9 0.5" fill="none"/>
<path d="M470.3 152.1H475.2M470.3 138.8H475.2" stroke="#333" stroke-width="0.4" fill="none"/>
<rect x="467.9" y="142.2" width="9.8" height="6.1" fill="#d0d0d0" stroke="#111" stroke-width="0.45"/>
<path d="M467.9 145.5H477.6" stroke="#000" stroke-width="1.15"/>
<path d="M484.9 144.3V136.7M484.9 128.2V125.2" stroke="#222" stroke-width="0.4" stroke-dasharray="0.9 0.5" fill="none"/>
<path d="M482.5 144.3H487.4M482.5 125.2H487.4" stroke="#333" stroke-width="0.4" fill="none"/>
<rect x="480.1" y="128.2" width="9.8" height="8.5" fill="#d0d0d0" stroke="#111" stroke-width="0.45"/>
<path d="M480.1 132.8H489.8" stroke="#000" stroke-width="1.15"/>
<path d="M497.1 149.8V148.3M497.1 144.3V143.4" stroke="#222" stroke-width="0.4" stroke-dasharray="0.9 0.5" fill="none"/>
<path d="M494.7 149.8H499.6M494.7 143.4H499.6" stroke="#333" stroke-width="0.4" fill="none"/>
<rect x="492.3" y="144.3" width="9.8" height="4.0" fill="#d0d0d0" stroke="#111" stroke-width="0.45"/>
<path d="M492.3 146.1H502.0" stroke="#000" stroke-width="1.15"/>
<circle cx="497.1" cy="135.5" r="0.5" fill="none" stroke="#111" stroke-width="0.4"/>
<circle cx="497.1" cy="138.5" r="0.5" fill="none" stroke="#111" stroke-width="0.4"/>
<path d="M509.4 142.8V141.0M509.4 136.1V135.1" stroke="#222" stroke-width="0.4" stroke-dasharray="0.9 0.5" fill="none"/>
<path d="M506.9 142.8H511.8M506.9 135.1H511.8" stroke="#333" stroke-width="0.4" fill="none"/>
<rect x="504.5" y="136.1" width="9.8" height="4.9" fill="#d0d0d0" stroke="#111" stroke-width="0.45"/>
<path d="M504.5 139.9H514.2" stroke="#000" stroke-width="1.15"/>
<path d="M521.6 154.9V154.9M521.6 153.1V152.2" stroke="#222" stroke-width="0.4" stroke-dasharray="0.9 0.5" fill="none"/>
<path d="M519.1 154.9H524.0M519.1 152.2H524.0" stroke="#333" stroke-width="0.4" fill="none"/>
<rect x="516.7" y="153.1" width="9.8" height="1.8" fill="#d0d0d0" stroke="#111" stroke-width="0.45"/>
<path d="M516.7 154.3H526.4" stroke="#000" stroke-width="1.15"/>
<polyline points="472.7,145.5 484.9,132.8 497.1,146.1 509.4,139.9 521.6,154.3" fill="none" stroke="#000" stroke-width="0.5"/>
</g>
<g id="bp12">
<rect x="541.40" y="91.60" width="65.9" height="65.7" fill="none" stroke="#222" stroke-width="0.6"/>
<path d="M549.9 149.8V148.1M549.9 145.0V141.0" stroke="#222" stroke-width="0.4" stroke-dasharray="0.9 0.5" fill="none"/>
<path d="M547.5 149.8H552.4M547.5 141.0H552.4" stroke="#333" stroke-width="0.4" fill="none"/>
<rect x="545.1" y="145.0" width="9.8" height="3.1" fill="#d0d0d0" stroke="#111" stroke-width="0.45"/>
<path d="M545.1 146.7H554.8" stroke="#000" stroke-width="1.15"/>
<path d="M562.1 137.9V134.9M562.1 132.6V131.8" stroke="#222" stroke-width="0.4" stroke-dasharray="0.9 0.5" fill="none"/>
<path d="M559.7 137.9H564.6M559.7 131.8H564.6" stroke="#333" stroke-width="0.4" fill="none"/>
<rect x="557.3" y="132.6" width="9.8" height="2.2" fill="#d0d0d0" stroke="#111" stroke-width="0.45"/>
<path d="M557.3 133.7H567.0" stroke="#000" stroke-width="1.15"/>
<circle cx="562.1" cy="126.7" r="0.5" fill="none" stroke="#111" stroke-width="0.4"/>
<path d="M574.4 149.5V148.7M574.4 142.8V139.3" stroke="#222" stroke-width="0.4" stroke-dasharray="0.9 0.5" fill="none"/>
<path d="M571.9 149.5H576.8M571.9 139.3H576.8" stroke="#333" stroke-width="0.4" fill="none"/>
<rect x="569.5" y="142.8" width="9.8" height="6.0" fill="#d0d0d0" stroke="#111" stroke-width="0.45"/>
<path d="M569.5 144.3H579.2" stroke="#000" stroke-width="1.15"/>
<path d="M586.6 143.4V138.8M586.6 134.0V133.4" stroke="#222" stroke-width="0.4" stroke-dasharray="0.9 0.5" fill="none"/>
<path d="M584.1 143.4H589.0M584.1 133.4H589.0" stroke="#333" stroke-width="0.4" fill="none"/>
<rect x="581.7" y="134.0" width="9.8" height="4.9" fill="#d0d0d0" stroke="#111" stroke-width="0.45"/>
<path d="M581.7 137.3H591.4" stroke="#000" stroke-width="1.15"/>
<circle cx="586.6" cy="147.2" r="0.5" fill="none" stroke="#111" stroke-width="0.4"/>
<path d="M598.8 154.9V154.9M598.8 153.9V153.1" stroke="#222" stroke-width="0.4" stroke-dasharray="0.9 0.5" fill="none"/>
<path d="M596.3 154.9H601.2M596.3 153.1H601.2" stroke="#333" stroke-width="0.4" fill="none"/>
<rect x="593.9" y="153.9" width="9.8" height="1.1" fill="#d0d0d0" stroke="#111" stroke-width="0.45"/>
<path d="M593.9 154.7H603.6" stroke="#000" stroke-width="0.8"/>
<polyline points="549.9,146.7 562.1,133.7 574.4,144.3 586.6,137.3 598.8,154.7" fill="none" stroke="#000" stroke-width="0.5"/>
</g>
<g id="bp13">
<rect x="618.60" y="91.60" width="65.9" height="65.7" fill="none" stroke="#222" stroke-width="0.6"/>
<path d="M627.1 148.3V146.1M627.1 142.2V136.1" stroke="#222" stroke-width="0.4" stroke-dasharray="0.9 0.5" fill="none"/>
<path d="M624.7 148.3H629.6M624.7 136.1H629.6" stroke="#333" stroke-width="0.4" fill="none"/>
<rect x="622.3" y="142.2" width="9.8" height="4.0" fill="#d0d0d0" stroke="#111" stroke-width="0.45"/>
<path d="M622.3 144.3H632.0" stroke="#000" stroke-width="1.15"/>
<circle cx="627.1" cy="127.8" r="0.5" fill="none" stroke="#111" stroke-width="0.4"/>
<path d="M639.3 142.8V141.6M639.3 134.0V129.4" stroke="#222" stroke-width="0.4" stroke-dasharray="0.9 0.5" fill="none"/>
<path d="M636.9 142.8H641.8M636.9 129.4H641.8" stroke="#333" stroke-width="0.4" fill="none"/>
<rect x="634.5" y="134.0" width="9.8" height="7.6" fill="#d0d0d0" stroke="#111" stroke-width="0.45"/>
<path d="M634.5 137.0H644.2" stroke="#000" stroke-width="1.15"/>
<circle cx="639.3" cy="151.4" r="0.5" fill="none" stroke="#111" stroke-width="0.4"/>
<path d="M651.6 147.2V145.0M651.6 142.5V139.9" stroke="#222" stroke-width="0.4" stroke-dasharray="0.9 0.5" fill="none"/>
<path d="M649.1 147.2H654.0M649.1 139.9H654.0" stroke="#333" stroke-width="0.4" fill="none"/>
<rect x="646.7" y="142.5" width="9.8" height="2.4" fill="#d0d0d0" stroke="#111" stroke-width="0.45"/>
<path d="M646.7 143.7H656.4" stroke="#000" stroke-width="1.15"/>
<path d="M663.8 143.7V140.4M663.8 134.9V133.3" stroke="#222" stroke-width="0.4" stroke-dasharray="0.9 0.5" fill="none"/>
<path d="M661.3 143.7H666.2M661.3 133.3H666.2" stroke="#333" stroke-width="0.4" fill="none"/>
<rect x="658.9" y="134.9" width="9.8" height="5.5" fill="#d0d0d0" stroke="#111" stroke-width="0.45"/>
<path d="M658.9 137.0H668.6" stroke="#000" stroke-width="1.15"/>
<path d="M676.0 154.9V154.9M676.0 154.3V154.0" stroke="#222" stroke-width="0.4" stroke-dasharray="0.9 0.5" fill="none"/>
<path d="M673.5 154.9H678.4M673.5 154.0H678.4" stroke="#333" stroke-width="0.4" fill="none"/>
<rect x="671.1" y="154.3" width="9.8" height="0.6" fill="#d0d0d0" stroke="#111" stroke-width="0.45"/>
<path d="M671.1 154.9H680.8" stroke="#000" stroke-width="0.8"/>
<polyline points="627.1,144.3 639.3,137.0 651.6,143.7 663.8,137.0 676.0,154.9" fill="none" stroke="#000" stroke-width="0.5"/>
</g>
<path d="M384.9 154.9H387.0M384.9 142.8H387.0M384.9 130.6H387.0M384.9 118.5H387.0M384.9 106.3H387.0M384.9 94.1H387.0" stroke="#222" stroke-width="0.5"/>
<g font-family="'Liberation Sans', sans-serif" font-size="6.2px" text-anchor="middle" fill="#000" stroke="#000" stroke-width="0.12">
<text transform="translate(382.7,154.9) rotate(-90)">0</text>
<text transform="translate(382.7,142.8) rotate(-90)">20</text>
<text transform="translate(382.7,130.6) rotate(-90)">40</text>
<text transform="translate(382.7,118.5) rotate(-90)">60</text>
<text transform="translate(382.7,106.3) rotate(-90)">80</text>
</g>
<g id="bp20">
<rect x="387.00" y="168.70" width="65.9" height="65.7" fill="none" stroke="#222" stroke-width="0.6"/>
<path d="M395.5 223.0V222.2M395.5 219.2V218.4" stroke="#222" stroke-width="0.4" stroke-dasharray="0.9 0.5" fill="none"/>
<path d="M393.1 223.0H398.0M393.1 218.4H398.0" stroke="#333" stroke-width="0.4" fill="none"/>
<rect x="390.7" y="219.2" width="9.8" height="3.0" fill="#d0d0d0" stroke="#111" stroke-width="0.45"/>
<path d="M390.7 220.9H400.4" stroke="#000" stroke-width="1.15"/>
<path d="M407.7 220.9V218.2M407.7 214.2V211.5" stroke="#222" stroke-width="0.4" stroke-dasharray="0.9 0.5" fill="none"/>
<path d="M405.3 220.9H410.2M405.3 211.5H410.2" stroke="#333" stroke-width="0.4" fill="none"/>
<rect x="402.9" y="214.2" width="9.8" height="4.0" fill="#d0d0d0" stroke="#111" stroke-width="0.45"/>
<path d="M402.9 216.3H412.6" stroke="#000" stroke-width="1.15"/>
<path d="M419.9 221.2V219.2M419.9 212.2V210.5" stroke="#222" stroke-width="0.4" stroke-dasharray="0.9 0.5" fill="none"/>
<path d="M417.5 221.2H422.4M417.5 210.5H422.4" stroke="#333" stroke-width="0.4" fill="none"/>
<rect x="415.1" y="212.2" width="9.8" height="7.0" fill="#d0d0d0" stroke="#111" stroke-width="0.45"/>
<path d="M415.1 216.0H424.8" stroke="#000" stroke-width="1.15"/>
<path d="M432.2 220.2V218.5M432.2 214.0V211.0" stroke="#222" stroke-width="0.4" stroke-dasharray="0.9 0.5" fill="none"/>
<path d="M429.7 220.2H434.6M429.7 211.0H434.6" stroke="#333" stroke-width="0.4" fill="none"/>
<rect x="427.3" y="214.0" width="9.8" height="4.5" fill="#d0d0d0" stroke="#111" stroke-width="0.45"/>
<path d="M427.3 216.5H437.0" stroke="#000" stroke-width="1.15"/>
<path d="M444.4 231.8V231.4M444.4 228.9V226.6" stroke="#222" stroke-width="0.4" stroke-dasharray="0.9 0.5" fill="none"/>
<path d="M441.9 231.8H446.8M441.9 226.6H446.8" stroke="#333" stroke-width="0.4" fill="none"/>
<rect x="439.5" y="228.9" width="9.8" height="2.5" fill="#d0d0d0" stroke="#111" stroke-width="0.45"/>
<path d="M439.5 230.1H449.2" stroke="#000" stroke-width="1.15"/>
<polyline points="395.5,220.9 407.7,216.3 419.9,216.0 432.2,216.5 444.4,230.1" fill="none" stroke="#000" stroke-width="0.5"/>
</g>
<g id="bp21">
<rect x="464.20" y="168.70" width="65.9" height="65.7" fill="none" stroke="#222" stroke-width="0.6"/>
<path d="M472.7 223.4V220.9M472.7 217.2V213.5" stroke="#222" stroke-width="0.4" stroke-dasharray="0.9 0.5" fill="none"/>
<path d="M470.3 223.4H475.2M470.3 213.5H475.2" stroke="#333" stroke-width="0.4" fill="none"/>
<rect x="467.9" y="217.2" width="9.8" height="3.7" fill="#d0d0d0" stroke="#111" stroke-width="0.45"/>
<path d="M467.9 219.2H477.6" stroke="#000" stroke-width="1.15"/>
<path d="M484.9 222.2V216.7M484.9 211.0V208.5" stroke="#222" stroke-width="0.4" stroke-dasharray="0.9 0.5" fill="none"/>
<path d="M482.5 222.2H487.4M482.5 208.5H487.4" stroke="#333" stroke-width="0.4" fill="none"/>
<rect x="480.1" y="211.0" width="9.8" height="5.7" fill="#d0d0d0" stroke="#111" stroke-width="0.45"/>
<path d="M480.1 214.2H489.8" stroke="#000" stroke-width="1.15"/>
<path d="M497.1 225.2V224.2M497.1 221.8V219.7" stroke="#222" stroke-width="0.4" stroke-dasharray="0.9 0.5" fill="none"/>
<path d="M494.7 225.2H499.6M494.7 219.7H499.6" stroke="#333" stroke-width="0.4" fill="none"/>
<rect x="492.3" y="221.8" width="9.8" height="2.4" fill="#d0d0d0" stroke="#111" stroke-width="0.45"/>
<path d="M492.3 223.0H502.0" stroke="#000" stroke-width="1.15"/>
<path d="M509.4 215.3V213.0M509.4 210.0V207.3" stroke="#222" stroke-width="0.4" stroke-dasharray="0.9 0.5" fill="none"/>
<path d="M506.9 215.3H511.8M506.9 207.3H511.8" stroke="#333" stroke-width="0.4" fill="none"/>
<rect x="504.5" y="210.0" width="9.8" height="3.0" fill="#d0d0d0" stroke="#111" stroke-width="0.45"/>
<path d="M504.5 211.5H514.2" stroke="#000" stroke-width="1.15"/>
<path d="M521.6 232.1V232.1M521.6 230.9V230.6" stroke="#222" stroke-width="0.4" stroke-dasharray="0.9 0.5" fill="none"/>
<path d="M519.1 232.1H524.0M519.1 230.6H524.0" stroke="#333" stroke-width="0.4" fill="none"/>
<rect x="516.7" y="230.9" width="9.8" height="1.2" fill="#d0d0d0" stroke="#111" stroke-width="0.45"/>
<path d="M516.7 231.4H526.4" stroke="#000" stroke-width="1.15"/>
<polyline points="472.7,219.2 484.9,214.2 497.1,223.0 509.4,211.5 521.6,231.4" fill="none" stroke="#000" stroke-width="0.5"/>
</g>
<g id="bp22">
<rect x="541.40" y="168.70" width="65.9" height="65.7" fill="none" stroke="#222" stroke-width="0.6"/>
<path d="M549.9 218.4V216.0M549.9 208.5V203.5" stroke="#222" stroke-width="0.4" stroke-dasharray="0.9 0.5" fill="none"/>
<path d="M547.5 218.4H552.4M547.5 203.5H552.4" stroke="#333" stroke-width="0.4" fill="none"/>
<rect x="545.1" y="208.5" width="9.8" height="7.5" fill="#d0d0d0" stroke="#111" stroke-width="0.45"/>
<path d="M545.1 211.6H554.8" stroke="#000" stroke-width="1.15"/>
<path d="M562.1 221.2V219.9M562.1 216.0V214.0" stroke="#222" stroke-width="0.4" stroke-dasharray="0.9 0.5" fill="none"/>
<path d="M559.7 221.2H564.6M559.7 214.0H564.6" stroke="#333" stroke-width="0.4" fill="none"/>
<rect x="557.3" y="216.0" width="9.8" height="3.9" fill="#d0d0d0" stroke="#111" stroke-width="0.45"/>
<path d="M557.3 218.2H567.0" stroke="#000" stroke-width="1.15"/>
<circle cx="562.1" cy="226.0" r="0.5" fill="none" stroke="#111" stroke-width="0.4"/>
<path d="M574.4 228.8V227.7M574.4 224.4V222.9" stroke="#222" stroke-width="0.4" stroke-dasharray="0.9 0.5" fill="none"/>
<path d="M571.9 228.8H576.8M571.9 222.9H576.8" stroke="#333" stroke-width="0.4" fill="none"/>
<rect x="569.5" y="224.4" width="9.8" height="3.3" fill="#d0d0d0" stroke="#111" stroke-width="0.45"/>
<path d="M569.5 226.1H579.2" stroke="#000" stroke-width="1.15"/>
<circle cx="574.4" cy="231.5" r="0.5" fill="none" stroke="#111" stroke-width="0.4"/>
<path d="M586.6 218.9V216.7M586.6 211.2V203.5" stroke="#222" stroke-width="0.4" stroke-dasharray="0.9 0.5" fill="none"/>
<path d="M584.1 218.9H589.0M584.1 203.5H589.0" stroke="#333" stroke-width="0.4" fill="none"/>
<rect x="581.7" y="211.2" width="9.8" height="5.5" fill="#d0d0d0" stroke="#111" stroke-width="0.45"/>
<path d="M581.7 213.4H591.4" stroke="#000" stroke-width="1.15"/>
<path d="M598.8 232.1V232.1M598.8 231.0V230.8" stroke="#222" stroke-width="0.4" stroke-dasharray="0.9 0.5" fill="none"/>
<path d="M596.3 232.1H601.2M596.3 230.8H601.2" stroke="#333" stroke-width="0.4" fill="none"/>
<rect x="593.9" y="231.0" width="9.8" height="1.1" fill="#d0d0d0" stroke="#111" stroke-width="0.45"/>
<path d="M593.9 231.7H603.6" stroke="#000" stroke-width="0.8"/>
<polyline points="549.9,211.6 562.1,218.2 574.4,226.1 586.6,213.4 598.8,231.7" fill="none" stroke="#000" stroke-width="0.5"/>
</g>
<g id="bp23">
<rect x="618.60" y="168.70" width="65.9" height="65.7" fill="none" stroke="#222" stroke-width="0.6"/>
<path d="M627.1 210.8V209.0M627.1 201.7V199.9" stroke="#222" stroke-width="0.4" stroke-dasharray="0.9 0.5" fill="none"/>
<path d="M624.7 210.8H629.6M624.7 199.9H629.6" stroke="#333" stroke-width="0.4" fill="none"/>
<rect x="622.3" y="201.7" width="9.8" height="7.3" fill="#d0d0d0" stroke="#111" stroke-width="0.45"/>
<path d="M622.3 204.1H632.0" stroke="#000" stroke-width="1.15"/>
<path d="M639.3 226.0V224.0M639.3 220.4V217.3" stroke="#222" stroke-width="0.4" stroke-dasharray="0.9 0.5" fill="none"/>
<path d="M636.9 226.0H641.8M636.9 217.3H641.8" stroke="#333" stroke-width="0.4" fill="none"/>
<rect x="634.5" y="220.4" width="9.8" height="3.5" fill="#d0d0d0" stroke="#111" stroke-width="0.45"/>
<path d="M634.5 222.2H644.2" stroke="#000" stroke-width="1.15"/>
<circle cx="639.3" cy="228.8" r="0.5" fill="none" stroke="#111" stroke-width="0.4"/>
<path d="M651.6 229.9V228.1M651.6 226.1V224.0" stroke="#222" stroke-width="0.4" stroke-dasharray="0.9 0.5" fill="none"/>
<path d="M649.1 229.9H654.0M649.1 224.0H654.0" stroke="#333" stroke-width="0.4" fill="none"/>
<rect x="646.7" y="226.1" width="9.8" height="2.0" fill="#d0d0d0" stroke="#111" stroke-width="0.45"/>
<path d="M646.7 227.2H656.4" stroke="#000" stroke-width="1.15"/>
<path d="M663.8 218.7V217.1M663.8 210.1V209.0" stroke="#222" stroke-width="0.4" stroke-dasharray="0.9 0.5" fill="none"/>
<path d="M661.3 218.7H666.2M661.3 209.0H666.2" stroke="#333" stroke-width="0.4" fill="none"/>
<rect x="658.9" y="210.1" width="9.8" height="7.1" fill="#d0d0d0" stroke="#111" stroke-width="0.45"/>
<path d="M658.9 214.5H668.6" stroke="#000" stroke-width="1.15"/>
<path d="M676.0 232.1V232.1M676.0 231.5V231.3" stroke="#222" stroke-width="0.4" stroke-dasharray="0.9 0.5" fill="none"/>
<path d="M673.5 232.1H678.4M673.5 231.3H678.4" stroke="#333" stroke-width="0.4" fill="none"/>
<rect x="671.1" y="231.5" width="9.8" height="0.6" fill="#d0d0d0" stroke="#111" stroke-width="0.45"/>
<path d="M671.1 231.9H680.8" stroke="#000" stroke-width="0.8"/>
<polyline points="627.1,204.1 639.3,222.2 651.6,227.2 663.8,214.5 676.0,231.9" fill="none" stroke="#000" stroke-width="0.5"/>
</g>
<path d="M384.9 232.1H387.0M384.9 219.9H387.0M384.9 207.8H387.0M384.9 195.6H387.0M384.9 183.5H387.0M384.9 171.3H387.0" stroke="#222" stroke-width="0.5"/>
<g font-family="'Liberation Sans', sans-serif" font-size="6.2px" text-anchor="middle" fill="#000" stroke="#000" stroke-width="0.12">
<text transform="translate(382.7,232.1) rotate(-90)">0</text>
<text transform="translate(382.7,219.9) rotate(-90)">20</text>
<text transform="translate(382.7,207.8) rotate(-90)">40</text>
<text transform="translate(382.7,195.6) rotate(-90)">60</text>
<text transform="translate(382.7,183.5) rotate(-90)">80</text>
</g>
<g id="bp30">
<rect x="387.00" y="245.80" width="65.9" height="65.7" fill="none" stroke="#222" stroke-width="0.6"/>
<path d="M395.5 302.1V300.1M395.5 296.9V295.6" stroke="#222" stroke-width="0.4" stroke-dasharray="0.9 0.5" fill="none"/>
<path d="M393.1 302.1H398.0M393.1 295.6H398.0" stroke="#333" stroke-width="0.4" fill="none"/>
<rect x="390.7" y="296.9" width="9.8" height="3.2" fill="#d0d0d0" stroke="#111" stroke-width="0.45"/>
<path d="M390.7 298.4H400.4" stroke="#000" stroke-width="1.15"/>
<circle cx="395.5" cy="291.4" r="0.5" fill="none" stroke="#111" stroke-width="0.4"/>
<path d="M407.7 297.7V294.7M407.7 290.7V287.7" stroke="#222" stroke-width="0.4" stroke-dasharray="0.9 0.5" fill="none"/>
<path d="M405.3 297.7H410.2M405.3 287.7H410.2" stroke="#333" stroke-width="0.4" fill="none"/>
<rect x="402.9" y="290.7" width="9.8" height="4.0" fill="#d0d0d0" stroke="#111" stroke-width="0.45"/>
<path d="M402.9 292.2H412.6" stroke="#000" stroke-width="1.15"/>
<circle cx="407.7" cy="284.9" r="0.5" fill="none" stroke="#111" stroke-width="0.4"/>
<path d="M419.9 305.3V304.6M419.9 298.4V294.4" stroke="#222" stroke-width="0.4" stroke-dasharray="0.9 0.5" fill="none"/>
<path d="M417.5 305.3H422.4M417.5 294.4H422.4" stroke="#333" stroke-width="0.4" fill="none"/>
<rect x="415.1" y="298.4" width="9.8" height="6.2" fill="#d0d0d0" stroke="#111" stroke-width="0.45"/>
<path d="M415.1 302.1H424.8" stroke="#000" stroke-width="1.15"/>
<path d="M432.2 288.0V286.5M432.2 282.3V277.4" stroke="#222" stroke-width="0.4" stroke-dasharray="0.9 0.5" fill="none"/>
<path d="M429.7 288.0H434.6M429.7 277.4H434.6" stroke="#333" stroke-width="0.4" fill="none"/>
<rect x="427.3" y="282.3" width="9.8" height="4.2" fill="#d0d0d0" stroke="#111" stroke-width="0.45"/>
<path d="M427.3 284.3H437.0" stroke="#000" stroke-width="1.15"/>
<circle cx="432.2" cy="291.6" r="0.5" fill="none" stroke="#111" stroke-width="0.4"/>
<circle cx="432.2" cy="297.1" r="0.5" fill="none" stroke="#111" stroke-width="0.4"/>
<path d="M444.4 309.2V309.0M444.4 307.8V307.4" stroke="#222" stroke-width="0.4" stroke-dasharray="0.9 0.5" fill="none"/>
<path d="M441.9 309.2H446.8M441.9 307.4H446.8" stroke="#333" stroke-width="0.4" fill="none"/>
<rect x="439.5" y="307.8" width="9.8" height="1.2" fill="#d0d0d0" stroke="#111" stroke-width="0.45"/>
<path d="M439.5 308.5H449.2" stroke="#000" stroke-width="1.15"/>
<polyline points="395.5,298.4 407.7,292.2 419.9,302.1 432.2,284.3 444.4,308.5" fill="none" stroke="#000" stroke-width="0.5"/>
</g>
<g id="bp31">
<rect x="464.20" y="245.80" width="65.9" height="65.7" fill="none" stroke="#222" stroke-width="0.6"/>
<path d="M472.7 298.9V296.5M472.7 287.7V287.1" stroke="#222" stroke-width="0.4" stroke-dasharray="0.9 0.5" fill="none"/>
<path d="M470.3 298.9H475.2M470.3 287.1H475.2" stroke="#333" stroke-width="0.4" fill="none"/>
<rect x="467.9" y="287.7" width="9.8" height="8.8" fill="#d0d0d0" stroke="#111" stroke-width="0.45"/>
<path d="M467.9 291.4H477.6" stroke="#000" stroke-width="1.15"/>
<path d="M484.9 297.7V294.7M484.9 289.0V286.5" stroke="#222" stroke-width="0.4" stroke-dasharray="0.9 0.5" fill="none"/>
<path d="M482.5 297.7H487.4M482.5 286.5H487.4" stroke="#333" stroke-width="0.4" fill="none"/>
<rect x="480.1" y="289.0" width="9.8" height="5.7" fill="#d0d0d0" stroke="#111" stroke-width="0.45"/>
<path d="M480.1 291.4H489.8" stroke="#000" stroke-width="1.15"/>
<path d="M497.1 308.9V308.3M497.1 305.8V305.0" stroke="#222" stroke-width="0.4" stroke-dasharray="0.9 0.5" fill="none"/>
<path d="M494.7 308.9H499.6M494.7 305.0H499.6" stroke="#333" stroke-width="0.4" fill="none"/>
<rect x="492.3" y="305.8" width="9.8" height="2.5" fill="#d0d0d0" stroke="#111" stroke-width="0.45"/>
<path d="M492.3 307.0H502.0" stroke="#000" stroke-width="1.15"/>
<circle cx="497.1" cy="302.6" r="0.5" fill="none" stroke="#111" stroke-width="0.4"/>
<path d="M509.4 291.0V287.0M509.4 282.8V281.9" stroke="#222" stroke-width="0.4" stroke-dasharray="0.9 0.5" fill="none"/>
<path d="M506.9 291.0H511.8M506.9 281.9H511.8" stroke="#333" stroke-width="0.4" fill="none"/>
<rect x="504.5" y="282.8" width="9.8" height="4.2" fill="#d0d0d0" stroke="#111" stroke-width="0.45"/>
<path d="M504.5 284.6H514.2" stroke="#000" stroke-width="1.15"/>
<circle cx="509.4" cy="278.4" r="0.5" fill="none" stroke="#111" stroke-width="0.4"/>
<path d="M521.6 309.2V309.2M521.6 308.8V308.6" stroke="#222" stroke-width="0.4" stroke-dasharray="0.9 0.5" fill="none"/>
<path d="M519.1 309.2H524.0M519.1 308.6H524.0" stroke="#333" stroke-width="0.4" fill="none"/>
<rect x="516.7" y="308.8" width="9.8" height="0.5" fill="#d0d0d0" stroke="#111" stroke-width="0.45"/>
<path d="M516.7 309.2H526.4" stroke="#000" stroke-width="0.8"/>
<polyline points="472.7,291.4 484.9,291.4 497.1,307.0 509.4,284.6 521.6,309.2" fill="none" stroke="#000" stroke-width="0.5"/>
</g>
<g id="bp32">
<rect x="541.40" y="245.80" width="65.9" height="65.7" fill="none" stroke="#222" stroke-width="0.6"/>
<path d="M549.9 281.3V280.4M549.9 273.0V267.3" stroke="#222" stroke-width="0.4" stroke-dasharray="0.9 0.5" fill="none"/>
<path d="M547.5 281.3H552.4M547.5 267.3H552.4" stroke="#333" stroke-width="0.4" fill="none"/>
<rect x="545.1" y="273.0" width="9.8" height="7.5" fill="#d0d0d0" stroke="#111" stroke-width="0.45"/>
<path d="M545.1 273.9H554.8" stroke="#000" stroke-width="1.15"/>
<path d="M562.1 306.0V300.5M562.1 295.0V292.2" stroke="#222" stroke-width="0.4" stroke-dasharray="0.9 0.5" fill="none"/>
<path d="M559.7 306.0H564.6M559.7 292.2H564.6" stroke="#333" stroke-width="0.4" fill="none"/>
<rect x="557.3" y="295.0" width="9.8" height="5.5" fill="#d0d0d0" stroke="#111" stroke-width="0.45"/>
<path d="M557.3 298.3H567.0" stroke="#000" stroke-width="1.15"/>
<path d="M574.4 309.2V309.2M574.4 308.2V308.0" stroke="#222" stroke-width="0.4" stroke-dasharray="0.9 0.5" fill="none"/>
<path d="M571.9 309.2H576.8M571.9 308.0H576.8" stroke="#333" stroke-width="0.4" fill="none"/>
<rect x="569.5" y="308.2" width="9.8" height="1.0" fill="#d0d0d0" stroke="#111" stroke-width="0.45"/>
<path d="M569.5 308.6H579.2" stroke="#000" stroke-width="0.8"/>
<path d="M586.6 295.9V294.8M586.6 291.7V290.4" stroke="#222" stroke-width="0.4" stroke-dasharray="0.9 0.5" fill="none"/>
<path d="M584.1 295.9H589.0M584.1 290.4H589.0" stroke="#333" stroke-width="0.4" fill="none"/>
<rect x="581.7" y="291.7" width="9.8" height="3.1" fill="#d0d0d0" stroke="#111" stroke-width="0.45"/>
<path d="M581.7 293.3H591.4" stroke="#000" stroke-width="1.15"/>
<circle cx="586.6" cy="286.1" r="0.5" fill="none" stroke="#111" stroke-width="0.4"/>
<circle cx="586.6" cy="302.1" r="0.5" fill="none" stroke="#111" stroke-width="0.4"/>
<path d="M598.8 309.2V309.2M598.8 308.6V308.5" stroke="#222" stroke-width="0.4" stroke-dasharray="0.9 0.5" fill="none"/>
<path d="M596.3 309.2H601.2M596.3 308.5H601.2" stroke="#333" stroke-width="0.4" fill="none"/>
<rect x="593.9" y="308.6" width="9.8" height="0.6" fill="#d0d0d0" stroke="#111" stroke-width="0.45"/>
<path d="M593.9 309.1H603.6" stroke="#000" stroke-width="0.8"/>
<polyline points="549.9,273.9 562.1,298.3 574.4,308.6 586.6,293.3 598.8,309.1" fill="none" stroke="#000" stroke-width="0.5"/>
</g>
<g id="bp33">
<rect x="618.60" y="245.80" width="65.9" height="65.7" fill="none" stroke="#222" stroke-width="0.6"/>
<path d="M627.1 266.8V264.1M627.1 260.9V260.3" stroke="#222" stroke-width="0.4" stroke-dasharray="0.9 0.5" fill="none"/>
<path d="M624.7 266.8H629.6M624.7 260.3H629.6" stroke="#333" stroke-width="0.4" fill="none"/>
<rect x="622.3" y="260.9" width="9.8" height="3.3" fill="#d0d0d0" stroke="#111" stroke-width="0.45"/>
<path d="M622.3 261.5H632.0" stroke="#000" stroke-width="1.15"/>
<path d="M639.3 309.2V309.2M639.3 304.7V301.3" stroke="#222" stroke-width="0.4" stroke-dasharray="0.9 0.5" fill="none"/>
<path d="M636.9 309.2H641.8M636.9 301.3H641.8" stroke="#333" stroke-width="0.4" fill="none"/>
<rect x="634.5" y="304.7" width="9.8" height="4.6" fill="#d0d0d0" stroke="#111" stroke-width="0.45"/>
<path d="M634.5 305.4H644.2" stroke="#000" stroke-width="1.15"/>
<path d="M651.6 309.2V309.2M651.6 308.6V308.5" stroke="#222" stroke-width="0.4" stroke-dasharray="0.9 0.5" fill="none"/>
<path d="M649.1 309.2H654.0M649.1 308.5H654.0" stroke="#333" stroke-width="0.4" fill="none"/>
<rect x="646.7" y="308.6" width="9.8" height="0.6" fill="#d0d0d0" stroke="#111" stroke-width="0.45"/>
<path d="M646.7 309.1H656.4" stroke="#000" stroke-width="0.8"/>
<path d="M663.8 302.3V301.6M663.8 296.5V293.7" stroke="#222" stroke-width="0.4" stroke-dasharray="0.9 0.5" fill="none"/>
<path d="M661.3 302.3H666.2M661.3 293.7H666.2" stroke="#333" stroke-width="0.4" fill="none"/>
<rect x="658.9" y="296.5" width="9.8" height="5.0" fill="#d0d0d0" stroke="#111" stroke-width="0.45"/>
<path d="M658.9 301.6H668.6" stroke="#000" stroke-width="1.15"/>
<path d="M676.0 309.2V309.2M676.0 308.6V308.5" stroke="#222" stroke-width="0.4" stroke-dasharray="0.9 0.5" fill="none"/>
<path d="M673.5 309.2H678.4M673.5 308.5H678.4" stroke="#333" stroke-width="0.4" fill="none"/>
<rect x="671.1" y="308.6" width="9.8" height="0.6" fill="#d0d0d0" stroke="#111" stroke-width="0.45"/>
<path d="M671.1 309.1H680.8" stroke="#000" stroke-width="0.8"/>
<polyline points="627.1,261.5 639.3,305.4 651.6,309.1 663.8,301.6 676.0,309.1" fill="none" stroke="#000" stroke-width="0.5"/>
</g>
<path d="M384.9 309.2H387.0M384.9 297.1H387.0M384.9 284.9H387.0M384.9 272.8H387.0M384.9 260.6H387.0M384.9 248.4H387.0" stroke="#222" stroke-width="0.5"/>
<g font-family="'Liberation Sans', sans-serif" font-size="6.2px" text-anchor="middle" fill="#000" stroke="#000" stroke-width="0.12">
<text transform="translate(382.7,309.2) rotate(-90)">0</text>
<text transform="translate(382.7,297.1) rotate(-90)">20</text>
<text transform="translate(382.7,284.9) rotate(-90)">40</text>
<text transform="translate(382.7,272.8) rotate(-90)">60</text>
<text transform="translate(382.7,260.6) rotate(-90)">80</text>
</g>
<g font-family="'Liberation Sans', sans-serif" font-size="6.6px" text-anchor="middle" fill="#000" stroke="#000" stroke-width="0.12">
<text x="395.5" y="318.6">dd</text>
<text x="407.7" y="318.6">ds</text>
<text x="419.9" y="318.6">pa</text>
<text x="432.2" y="318.6">tr</text>
<text x="444.4" y="318.6">cy</text>
<path d="M395.5 311.5v2.1M407.7 311.5v2.1M419.9 311.5v2.1M432.2 311.5v2.1M444.4 311.5v2.1" stroke="#222" stroke-width="0.5"/>
<text x="472.7" y="318.6">dd</text>
<text x="484.9" y="318.6">ds</text>
<text x="497.1" y="318.6">pa</text>
<text x="509.4" y="318.6">tr</text>
<text x="521.6" y="318.6">cy</text>
<path d="M472.7 311.5v2.1M484.9 311.5v2.1M497.1 311.5v2.1M509.4 311.5v2.1M521.6 311.5v2.1" stroke="#222" stroke-width="0.5"/>
<text x="549.9" y="318.6">dd</text>
<text x="562.1" y="318.6">ds</text>
<text x="574.4" y="318.6">pa</text>
<text x="586.6" y="318.6">tr</text>
<text x="598.8" y="318.6">cy</text>
<path d="M549.9 311.5v2.1M562.1 311.5v2.1M574.4 311.5v2.1M586.6 311.5v2.1M598.8 311.5v2.1" stroke="#222" stroke-width="0.5"/>
<text x="627.1" y="318.6">dd</text>
<text x="639.3" y="318.6">ds</text>
<text x="651.6" y="318.6">pa</text>
<text x="663.8" y="318.6">tr</text>
<text x="676.0" y="318.6">cy</text>
<path d="M627.1 311.5v2.1M639.3 311.5v2.1M651.6 311.5v2.1M663.8 311.5v2.1M676.0 311.5v2.1" stroke="#222" stroke-width="0.5"/>
</g>
<path d="M391.3 335.2L396.4 327.0L401.5 335.2" fill="none" stroke="#000" stroke-width="1.15" stroke-linejoin="round"/>
<path d="M392.4 334.0L392.6 331.2L394.7 332.4ZM400.4 334.0L398.1 332.4L400.2 331.2Z" fill="#000"/>
<path d="M402.6 335.2L407.7 327.0L412.8 335.2" fill="none" stroke="#000" stroke-width="1.15" stroke-linejoin="round"/>
<path d="M407.4 327.5L407.2 330.3L405.1 329.1ZM411.7 334.0L409.4 332.4L411.5 331.2Z" fill="#000"/>
<path d="M414.3 335.2L419.4 327.0L424.5 335.2" fill="none" stroke="#000" stroke-width="1.15" stroke-linejoin="round"/>
<path d="M421.0 329.9L418.7 328.3L420.8 327.1ZM416.6 331.8L416.4 334.6L414.3 333.4Z" fill="#000"/>
<path d="M427.4 335.2L432.5 327.0L437.6 335.2" fill="none" stroke="#000" stroke-width="1.15" stroke-linejoin="round"/>
<path d="M432.5 327.0L433.7 329.4L431.3 329.4Z" fill="#000"/>
<path d="M428.7 332.0H436.3" stroke="#000" stroke-width="1.2"/>
<path d="M439.9 335.2L445.0 327.0L450.1 335.2" fill="none" stroke="#000" stroke-width="1.15" stroke-linejoin="round"/>
<path d="M445.0 326.9L446.5 329.9L443.5 329.9Z" fill="#000"/>
<path d="M441.2 332.0H448.8" stroke="#000" stroke-width="1.2"/>
<path d="M468.5 335.2L473.6 327.0L478.7 335.2" fill="none" stroke="#000" stroke-width="1.15" stroke-linejoin="round"/>
<path d="M469.6 334.0L469.8 331.2L471.9 332.4ZM477.6 334.0L475.3 332.4L477.4 331.2Z" fill="#000"/>
<path d="M479.8 335.2L484.9 327.0L490.0 335.2" fill="none" stroke="#000" stroke-width="1.15" stroke-linejoin="round"/>
<path d="M484.6 327.5L484.4 330.3L482.3 329.1ZM488.9 334.0L486.6 332.4L488.7 331.2Z" fill="#000"/>
<path d="M491.5 335.2L496.6 327.0L501.7 335.2" fill="none" stroke="#000" stroke-width="1.15" stroke-linejoin="round"/>
<path d="M498.2 329.9L495.9 328.3L498.0 327.1ZM493.8 331.8L493.6 334.6L491.5 333.4Z" fill="#000"/>
<path d="M504.6 335.2L509.7 327.0L514.8 335.2" fill="none" stroke="#000" stroke-width="1.15" stroke-linejoin="round"/>
<path d="M509.7 327.0L510.9 329.4L508.5 329.4Z" fill="#000"/>
<path d="M505.9 332.0H513.5" stroke="#000" stroke-width="1.2"/>
<path d="M517.1 335.2L522.2 327.0L527.3 335.2" fill="none" stroke="#000" stroke-width="1.15" stroke-linejoin="round"/>
<path d="M522.2 326.9L523.7 329.9L520.7 329.9Z" fill="#000"/>
<path d="M518.4 332.0H526.0" stroke="#000" stroke-width="1.2"/>
<path d="M545.7 335.2L550.8 327.0L555.9 335.2" fill="none" stroke="#000" stroke-width="1.15" stroke-linejoin="round"/>
<path d="M546.8 334.0L547.0 331.2L549.1 332.4ZM554.8 334.0L552.5 332.4L554.6 331.2Z" fill="#000"/>
<path d="M557.0 335.2L562.1 327.0L567.2 335.2" fill="none" stroke="#000" stroke-width="1.15" stroke-linejoin="round"/>
<path d="M561.8 327.5L561.6 330.3L559.5 329.1ZM566.1 334.0L563.8 332.4L565.9 331.2Z" fill="#000"/>
<path d="M568.7 335.2L573.8 327.0L578.9 335.2" fill="none" stroke="#000" stroke-width="1.15" stroke-linejoin="round"/>
<path d="M575.4 329.9L573.1 328.3L575.2 327.1ZM571.0 331.8L570.8 334.6L568.7 333.4Z" fill="#000"/>
<path d="M581.8 335.2L586.9 327.0L592.0 335.2" fill="none" stroke="#000" stroke-width="1.15" stroke-linejoin="round"/>
<path d="M586.9 327.0L588.1 329.4L585.7 329.4Z" fill="#000"/>
<path d="M583.1 332.0H590.7" stroke="#000" stroke-width="1.2"/>
<path d="M594.3 335.2L599.4 327.0L604.5 335.2" fill="none" stroke="#000" stroke-width="1.15" stroke-linejoin="round"/>
<path d="M599.4 326.9L600.9 329.9L597.9 329.9Z" fill="#000"/>
<path d="M595.6 332.0H603.2" stroke="#000" stroke-width="1.2"/>
<path d="M622.9 335.2L628.0 327.0L633.1 335.2" fill="none" stroke="#000" stroke-width="1.15" stroke-linejoin="round"/>
<path d="M624.0 334.0L624.2 331.2L626.3 332.4ZM632.0 334.0L629.7 332.4L631.8 331.2Z" fill="#000"/>
<path d="M634.2 335.2L639.3 327.0L644.4 335.2" fill="none" stroke="#000" stroke-width="1.15" stroke-linejoin="round"/>
<path d="M639.0 327.5L638.8 330.3L636.7 329.1ZM643.3 334.0L641.0 332.4L643.1 331.2Z" fill="#000"/>
<path d="M645.9 335.2L651.0 327.0L656.1 335.2" fill="none" stroke="#000" stroke-width="1.15" stroke-linejoin="round"/>
<path d="M652.6 329.9L650.3 328.3L652.4 327.1ZM648.2 331.8L648.0 334.6L645.9 333.4Z" fill="#000"/>
<path d="M659.0 335.2L664.1 327.0L669.2 335.2" fill="none" stroke="#000" stroke-width="1.15" stroke-linejoin="round"/>
<path d="M664.1 327.0L665.3 329.4L662.9 329.4Z" fill="#000"/>
<path d="M660.3 332.0H667.9" stroke="#000" stroke-width="1.2"/>
<path d="M671.5 335.2L676.6 327.0L681.7 335.2" fill="none" stroke="#000" stroke-width="1.15" stroke-linejoin="round"/>
<path d="M676.6 326.9L678.1 329.9L675.1 329.9Z" fill="#000"/>
<path d="M672.8 332.0H680.4" stroke="#000" stroke-width="1.2"/>
</svg>
</body></html>
